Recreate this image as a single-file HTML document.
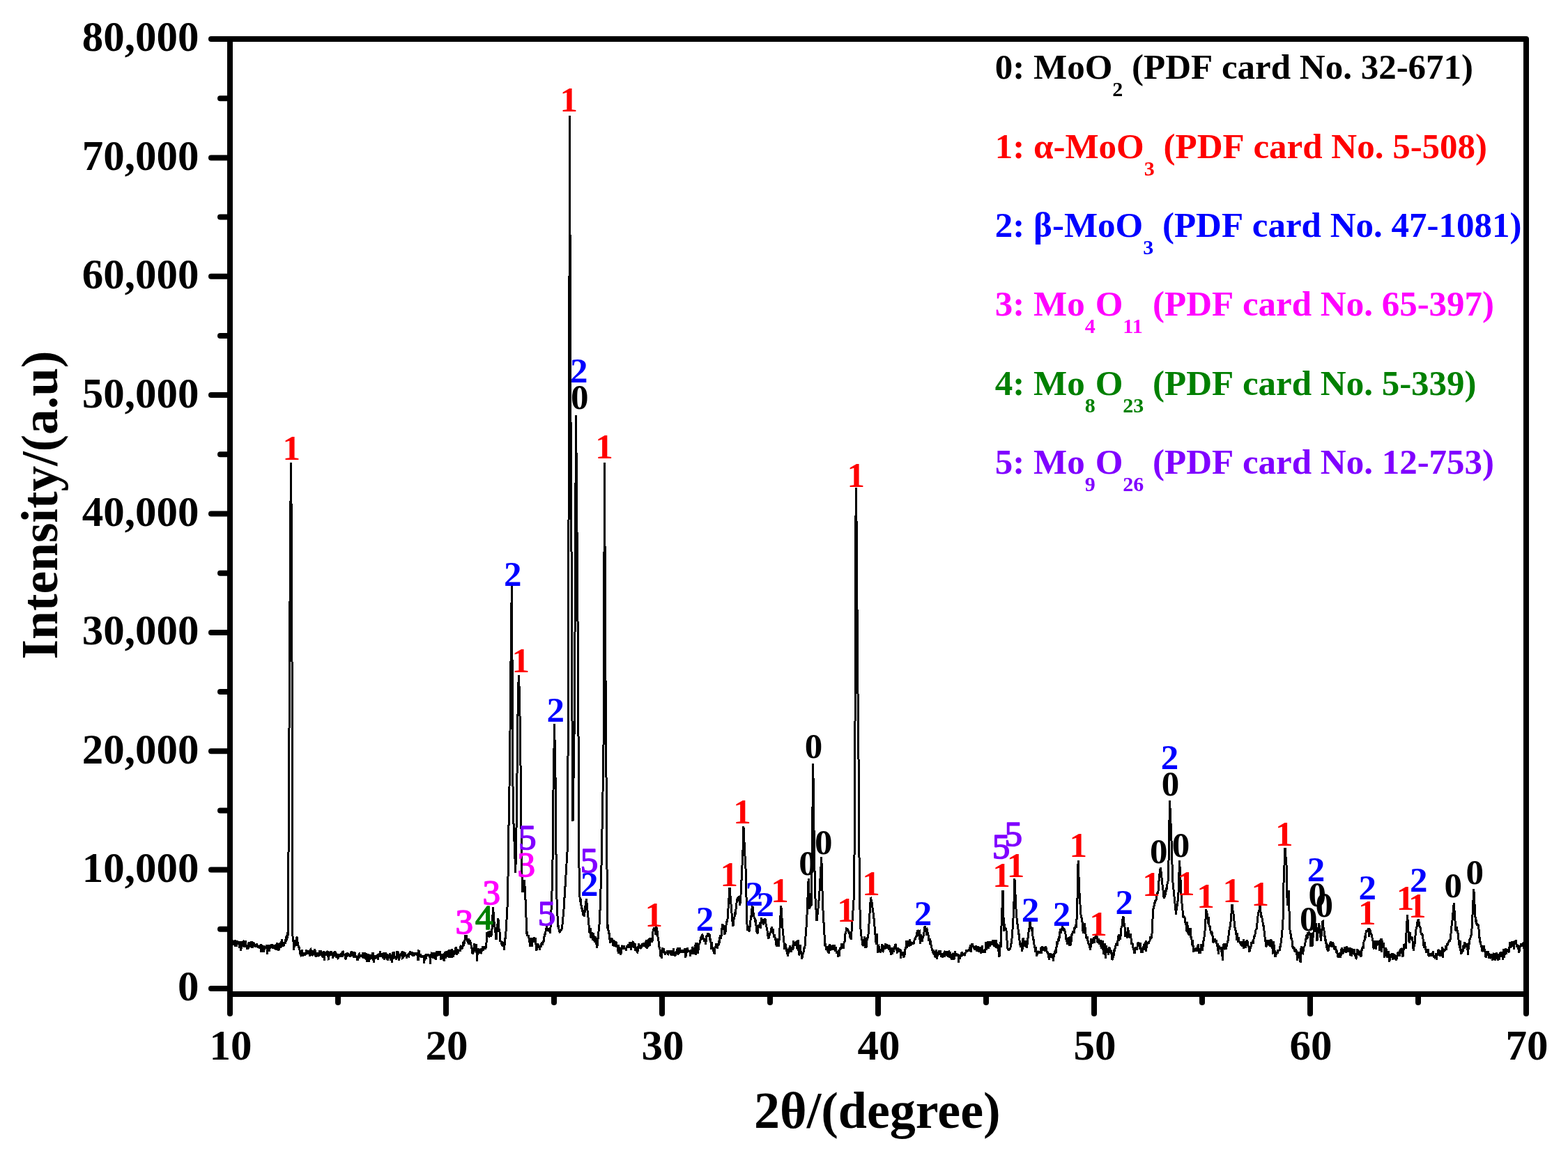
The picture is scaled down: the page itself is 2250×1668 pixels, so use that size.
<!DOCTYPE html><html><head><meta charset="utf-8"><style>html,body{margin:0;padding:0;background:#fff;}svg{display:block;}</style></head><body>
<svg width="2250" height="1668" viewBox="0 0 2250 1668">
<rect width="100%" height="100%" fill="#fff"/>
<path d="M331.00 1353.00 L331.62 1352.24 L332.24 1349.33 L332.86 1352.67 L333.48 1349.26 L334.00 1353.80 L334.10 1355.23 L334.72 1354.56 L335.34 1355.80 L335.96 1355.85 L336.58 1350.93 L337.20 1349.32 L337.82 1359.03 L338.44 1356.32 L339.06 1356.45 L339.68 1358.84 L340.30 1349.97 L340.92 1354.31 L341.54 1351.96 L342.16 1356.22 L342.78 1352.96 L343.40 1361.10 L344.02 1351.17 L344.64 1353.19 L345.26 1358.54 L345.88 1365.12 L346.50 1350.76 L347.12 1358.89 L347.74 1350.92 L348.00 1355.60 L348.36 1352.40 L348.98 1351.82 L349.60 1353.19 L350.22 1359.77 L350.84 1351.32 L351.46 1351.40 L352.08 1351.48 L352.70 1351.56 L353.32 1359.92 L353.94 1357.42 L354.56 1362.42 L355.18 1356.83 L355.80 1361.38 L356.42 1361.81 L357.04 1352.50 L357.66 1354.12 L358.28 1358.86 L358.90 1358.54 L359.52 1359.15 L360.14 1352.67 L360.76 1352.76 L361.38 1354.44 L362.00 1361.11 L362.62 1353.04 L363.24 1353.14 L363.86 1359.35 L364.48 1353.32 L365.10 1356.81 L365.72 1354.92 L366.00 1358.30 L366.34 1358.90 L366.96 1356.51 L367.58 1359.51 L368.20 1353.88 L368.82 1357.18 L369.44 1357.47 L370.06 1357.70 L370.68 1360.39 L371.30 1359.46 L371.92 1360.07 L372.54 1358.65 L373.16 1357.35 L373.78 1357.47 L374.40 1354.81 L375.02 1366.77 L375.64 1358.78 L376.26 1358.38 L376.88 1361.55 L377.50 1360.61 L378.12 1356.95 L378.74 1367.22 L379.36 1359.64 L379.98 1360.23 L380.60 1357.91 L381.22 1361.43 L381.84 1360.83 L382.46 1357.58 L383.08 1356.11 L383.70 1369.90 L384.00 1361.00 L384.32 1360.26 L384.94 1361.16 L385.56 1363.05 L386.18 1366.15 L386.80 1356.40 L387.42 1360.78 L388.04 1358.75 L388.66 1361.28 L389.28 1354.94 L389.90 1360.61 L390.52 1356.56 L391.14 1356.68 L391.76 1361.67 L392.38 1360.23 L393.00 1360.84 L393.62 1359.78 L394.24 1357.05 L394.86 1356.99 L395.48 1359.97 L396.10 1363.71 L396.72 1357.51 L397.34 1353.14 L397.96 1361.16 L398.58 1358.05 L399.20 1360.96 L399.82 1365.26 L400.44 1361.46 L401.06 1352.99 L401.68 1358.70 L402.00 1357.40 L402.30 1360.86 L402.92 1354.59 L403.54 1360.06 L404.16 1348.19 L404.78 1357.17 L405.40 1358.38 L406.02 1352.30 L406.64 1357.69 L407.26 1356.97 L407.88 1355.72 L408.50 1352.98 L409.00 1352.00 L409.12 1347.64 L409.74 1354.58 L410.36 1348.60 L410.98 1344.51 L411.00 1350.00 L411.60 1348.08 L412.22 1338.45 L412.84 1346.58 L413.00 1345.00 L413.46 1303.60 L413.50 1300.00 L414.08 1213.00 L414.50 1150.00 L414.70 1110.00 L415.32 986.00 L415.50 950.00 L415.94 875.20 L416.50 780.00 L416.56 773.04 L417.18 701.12 L417.50 664.00 L417.80 698.80 L418.42 770.72 L418.50 780.00 L419.00 950.00 L419.04 976.67 L419.30 1150.00 L419.50 1300.00 L419.66 1314.08 L420.00 1344.00 L420.28 1347.99 L420.90 1351.20 L421.50 1357.00 L421.52 1363.78 L422.14 1349.06 L422.76 1359.66 L423.38 1356.18 L424.00 1355.98 L424.62 1356.41 L425.24 1357.63 L425.86 1345.59 L426.48 1345.19 L426.50 1348.50 L427.10 1352.84 L427.72 1355.51 L428.34 1359.20 L428.96 1360.83 L429.58 1360.87 L430.20 1365.71 L430.82 1369.19 L431.40 1371.80 L431.44 1370.48 L432.06 1371.46 L432.68 1373.01 L433.30 1362.93 L433.92 1370.66 L434.54 1372.57 L435.16 1371.63 L435.78 1367.72 L436.40 1369.21 L437.02 1367.40 L437.64 1368.34 L438.26 1369.99 L438.88 1369.62 L439.50 1363.15 L440.12 1365.56 L440.74 1369.42 L441.36 1368.05 L441.98 1369.92 L442.60 1364.46 L443.22 1368.96 L443.84 1365.32 L444.46 1372.88 L445.08 1363.14 L445.70 1362.52 L446.32 1364.29 L446.60 1366.40 L446.94 1365.73 L447.56 1371.82 L448.18 1370.84 L448.80 1368.66 L449.42 1363.86 L450.04 1370.37 L450.66 1366.85 L451.28 1364.93 L451.90 1362.46 L452.52 1372.93 L453.14 1370.25 L453.76 1373.79 L454.38 1371.45 L455.00 1367.55 L455.62 1370.83 L456.24 1370.47 L456.86 1371.72 L457.48 1373.04 L458.10 1367.92 L458.72 1363.82 L459.34 1372.09 L459.96 1366.66 L460.58 1364.20 L461.20 1368.28 L461.82 1371.39 L462.44 1370.08 L463.06 1374.44 L463.68 1366.68 L464.30 1365.17 L464.60 1370.00 L464.92 1365.21 L465.54 1379.24 L466.16 1369.33 L466.78 1369.16 L467.40 1365.92 L468.02 1371.89 L468.64 1365.81 L469.26 1369.81 L469.88 1366.00 L470.50 1366.17 L471.12 1375.56 L471.74 1378.24 L472.36 1366.00 L472.98 1368.18 L473.60 1369.71 L474.22 1370.02 L474.84 1366.00 L475.46 1366.00 L476.08 1369.98 L476.70 1371.42 L477.32 1371.64 L477.94 1375.68 L478.56 1366.96 L479.18 1372.77 L479.80 1366.00 L480.42 1366.54 L481.04 1369.87 L481.66 1366.00 L482.28 1369.37 L482.90 1375.34 L483.52 1368.90 L484.14 1374.20 L484.76 1375.60 L485.38 1375.16 L486.00 1370.62 L486.62 1369.74 L487.24 1373.85 L487.86 1369.22 L488.48 1372.33 L489.10 1369.17 L489.72 1368.49 L490.34 1368.66 L490.96 1374.25 L491.50 1370.00 L491.58 1366.34 L492.20 1366.00 L492.82 1370.11 L493.44 1369.43 L494.06 1371.96 L494.68 1370.22 L495.30 1369.95 L495.92 1376.14 L496.54 1375.80 L497.16 1369.33 L497.78 1373.58 L498.40 1367.35 L499.02 1368.44 L499.64 1371.86 L500.26 1370.79 L500.88 1372.82 L501.50 1369.26 L502.12 1371.64 L502.74 1373.61 L503.36 1372.33 L503.98 1366.25 L504.60 1366.27 L505.22 1368.71 L505.84 1370.57 L506.46 1366.33 L507.08 1373.36 L507.70 1373.46 L508.32 1369.88 L508.94 1366.42 L509.56 1369.16 L510.18 1374.99 L510.80 1371.94 L511.42 1372.76 L512.04 1372.15 L512.66 1378.40 L513.28 1377.60 L513.90 1377.52 L514.52 1370.52 L515.14 1375.46 L515.76 1367.64 L516.38 1372.77 L517.00 1370.17 L517.62 1371.97 L518.24 1373.89 L518.40 1370.90 L518.86 1374.16 L519.48 1372.06 L520.10 1374.56 L520.72 1366.81 L521.34 1375.38 L521.96 1373.63 L522.58 1373.16 L523.20 1366.89 L523.82 1374.46 L524.44 1377.21 L525.06 1368.00 L525.68 1376.22 L526.30 1376.24 L526.92 1380.61 L527.54 1373.49 L528.16 1369.32 L528.78 1377.40 L529.00 1376.30 L529.40 1380.63 L530.02 1378.26 L530.64 1376.05 L531.26 1370.87 L531.88 1371.66 L532.50 1372.64 L533.12 1377.13 L533.74 1373.95 L534.36 1368.83 L534.98 1367.20 L535.60 1372.92 L536.22 1381.58 L536.84 1376.28 L537.46 1372.33 L538.08 1371.18 L538.70 1376.42 L539.32 1373.95 L539.94 1371.12 L540.56 1372.15 L541.18 1375.85 L541.80 1372.07 L542.40 1369.10 L542.42 1378.26 L543.04 1369.62 L543.66 1372.05 L544.28 1373.75 L544.90 1368.68 L545.52 1365.52 L546.14 1373.00 L546.76 1368.60 L547.38 1372.31 L548.00 1372.17 L548.62 1371.58 L549.24 1375.73 L549.86 1367.68 L550.48 1370.69 L551.10 1374.03 L551.72 1377.42 L552.34 1373.47 L552.96 1366.95 L553.58 1374.74 L554.20 1374.81 L554.82 1372.73 L555.44 1369.30 L555.90 1373.60 L556.06 1378.82 L556.68 1377.37 L557.30 1374.63 L557.92 1374.50 L558.54 1370.36 L559.16 1371.26 L559.78 1368.26 L560.40 1372.66 L561.02 1378.79 L561.64 1371.47 L562.26 1381.61 L562.88 1371.89 L563.50 1367.70 L564.12 1376.78 L564.74 1367.51 L565.36 1367.42 L565.98 1373.48 L566.60 1371.96 L567.22 1375.71 L567.84 1374.45 L568.46 1377.62 L569.08 1372.31 L569.70 1366.72 L570.32 1366.60 L570.94 1376.13 L571.56 1366.35 L572.18 1372.46 L572.80 1378.46 L573.42 1370.03 L573.80 1370.90 L574.04 1372.25 L574.66 1371.55 L575.28 1368.12 L575.90 1371.34 L576.52 1367.61 L577.14 1365.23 L577.76 1375.10 L578.38 1374.75 L579.00 1365.75 L579.62 1373.96 L580.24 1369.67 L580.86 1371.56 L581.48 1367.70 L582.10 1372.45 L582.72 1369.88 L583.34 1375.49 L583.96 1372.14 L584.58 1371.19 L585.20 1369.51 L585.82 1372.72 L586.44 1373.07 L587.06 1367.44 L587.68 1370.74 L588.30 1365.07 L588.92 1369.48 L589.54 1367.18 L590.16 1368.33 L590.78 1370.89 L591.40 1367.23 L591.80 1367.30 L592.02 1372.27 L592.64 1370.89 L593.26 1368.22 L593.88 1367.35 L594.50 1370.81 L595.12 1370.40 L595.74 1369.80 L596.36 1368.43 L596.98 1368.53 L597.60 1367.55 L598.22 1371.90 L598.84 1368.83 L599.46 1375.20 L600.08 1379.18 L600.70 1365.13 L601.32 1365.43 L601.94 1369.66 L602.56 1373.93 L603.18 1369.33 L603.80 1373.27 L604.42 1373.76 L605.04 1374.84 L605.20 1373.60 L605.66 1372.67 L606.28 1371.36 L606.90 1373.20 L607.52 1374.68 L608.14 1372.23 L608.76 1383.00 L609.38 1372.27 L610.00 1371.45 L610.62 1372.65 L611.24 1376.52 L611.86 1369.43 L612.48 1372.71 L613.10 1369.53 L613.72 1372.99 L614.34 1369.76 L614.96 1373.12 L615.58 1371.13 L616.20 1372.23 L616.82 1370.65 L617.44 1384.22 L618.06 1372.66 L618.68 1368.76 L618.70 1370.90 L619.30 1368.70 L619.92 1366.90 L620.54 1373.28 L621.16 1375.85 L621.78 1371.63 L622.40 1371.43 L623.02 1366.90 L623.64 1374.93 L624.26 1376.95 L624.88 1369.86 L625.50 1377.77 L626.12 1366.90 L626.74 1366.90 L627.36 1372.76 L627.98 1370.31 L628.60 1370.16 L629.22 1366.90 L629.84 1366.90 L630.46 1371.36 L631.08 1367.13 L631.70 1366.88 L632.32 1375.06 L632.94 1377.34 L633.56 1373.54 L634.18 1374.24 L634.80 1370.55 L635.42 1370.25 L636.04 1375.37 L636.60 1370.90 L636.66 1378.06 L637.28 1379.97 L637.90 1376.15 L638.52 1365.86 L639.14 1376.03 L639.76 1371.52 L640.38 1369.01 L641.00 1365.02 L641.62 1373.86 L642.24 1366.76 L642.86 1368.06 L643.48 1364.52 L644.10 1374.72 L644.72 1364.28 L645.34 1364.07 L645.96 1364.20 L646.58 1369.10 L647.20 1364.85 L647.82 1375.35 L648.44 1362.42 L649.06 1373.21 L649.68 1369.05 L650.10 1368.20 L650.30 1372.80 L650.92 1372.60 L651.54 1364.56 L652.16 1368.06 L652.78 1368.07 L653.40 1367.17 L654.02 1359.44 L654.64 1362.69 L655.26 1364.17 L655.88 1370.52 L656.50 1362.53 L657.12 1368.72 L657.74 1365.34 L658.36 1362.88 L658.98 1365.71 L659.60 1364.64 L660.22 1364.67 L660.84 1358.32 L661.46 1357.02 L662.08 1361.46 L662.70 1362.56 L663.32 1361.06 L663.60 1361.00 L663.94 1359.61 L664.56 1352.40 L665.18 1357.65 L665.80 1350.94 L666.42 1354.34 L667.04 1348.57 L667.66 1342.55 L668.28 1343.65 L668.90 1344.19 L669.40 1344.00 L669.52 1343.95 L670.14 1351.91 L670.76 1349.55 L671.38 1350.98 L672.00 1353.40 L672.50 1355.60 L672.62 1346.64 L673.24 1356.09 L673.86 1350.00 L674.30 1351.10 L674.48 1349.69 L675.10 1352.47 L675.72 1353.79 L676.34 1361.58 L676.96 1360.53 L677.58 1368.01 L677.90 1368.20 L678.20 1359.74 L678.82 1369.71 L679.44 1364.24 L680.06 1360.57 L680.60 1358.30 L680.68 1353.65 L681.30 1360.90 L681.92 1354.96 L682.54 1358.08 L683.16 1368.08 L683.78 1354.79 L684.20 1368.20 L684.40 1380.29 L685.02 1367.25 L685.64 1370.84 L686.26 1361.17 L686.88 1368.44 L687.50 1363.38 L688.12 1365.94 L688.70 1364.60 L688.74 1362.32 L689.36 1362.91 L689.98 1369.17 L690.60 1367.23 L691.22 1361.63 L691.84 1365.73 L692.46 1362.31 L693.08 1357.88 L693.70 1365.21 L694.32 1361.12 L694.94 1358.41 L695.56 1361.53 L696.18 1358.64 L696.80 1362.30 L697.42 1357.74 L697.70 1357.40 L698.04 1352.48 L698.66 1343.52 L699.00 1338.60 L699.28 1340.04 L699.90 1341.67 L700.52 1336.70 L701.14 1345.36 L701.76 1341.42 L702.10 1335.90 L702.38 1338.90 L703.00 1338.26 L703.62 1338.39 L703.90 1343.10 L704.24 1339.74 L704.86 1344.38 L705.48 1337.13 L706.10 1333.00 L706.20 1332.30 L706.72 1320.10 L707.34 1305.55 L707.50 1301.80 L707.96 1308.21 L708.58 1316.86 L709.20 1325.51 L709.30 1326.90 L709.82 1329.10 L710.44 1336.34 L711.06 1338.92 L711.68 1347.29 L712.00 1349.30 L712.30 1345.91 L712.92 1338.91 L713.54 1331.90 L714.16 1324.90 L714.70 1318.80 L714.78 1318.36 L715.40 1323.98 L716.02 1333.32 L716.64 1334.90 L717.26 1340.10 L717.40 1344.90 L717.88 1351.91 L718.50 1350.91 L719.12 1351.38 L719.74 1353.94 L720.30 1357.60 L720.36 1350.84 L720.98 1356.30 L721.60 1358.23 L722.22 1352.70 L722.84 1354.63 L723.46 1364.28 L724.08 1355.62 L724.70 1350.52 L725.32 1342.04 L725.40 1347.50 L725.94 1338.26 L726.56 1327.65 L727.18 1317.03 L727.80 1306.42 L728.00 1303.00 L728.42 1284.73 L729.00 1259.50 L729.04 1256.33 L729.66 1207.11 L729.80 1196.00 L730.28 1169.60 L730.90 1135.50 L731.00 1130.00 L731.52 1088.40 L732.00 1050.00 L732.14 1036.00 L732.76 974.00 L733.00 950.00 L733.38 918.14 L734.00 866.15 L734.30 841.00 L734.62 888.60 L735.10 960.00 L735.24 988.35 L735.50 1041.00 L735.86 1103.23 L736.20 1162.00 L736.48 1169.07 L737.10 1184.71 L737.72 1200.36 L738.30 1215.00 L738.34 1216.01 L738.96 1231.72 L739.58 1247.43 L739.80 1253.00 L740.20 1231.59 L740.82 1198.40 L741.44 1165.21 L741.50 1162.00 L742.06 1106.00 L742.60 1052.00 L742.68 1046.88 L743.30 1007.20 L743.60 988.00 L743.92 981.24 L744.50 969.00 L744.54 970.27 L745.16 989.90 L745.70 1007.00 L745.78 1012.38 L746.40 1054.09 L746.80 1081.00 L747.02 1100.20 L747.64 1154.31 L747.90 1177.00 L748.26 1219.00 L748.50 1247.00 L748.88 1255.61 L749.50 1269.67 L750.00 1281.00 L750.12 1279.66 L750.74 1275.48 L751.36 1273.26 L751.98 1268.01 L752.60 1263.60 L753.22 1275.77 L753.84 1287.93 L754.20 1295.00 L754.46 1301.99 L755.08 1318.66 L755.70 1335.32 L755.90 1340.70 L756.32 1336.70 L756.94 1343.40 L757.56 1342.11 L758.18 1344.42 L758.80 1344.01 L759.42 1351.88 L760.04 1352.27 L760.66 1358.82 L761.00 1354.00 L761.28 1351.62 L761.90 1346.64 L762.52 1349.89 L763.14 1359.00 L763.76 1353.12 L764.38 1345.94 L765.00 1347.54 L765.62 1352.44 L766.24 1346.39 L766.86 1345.69 L767.48 1349.86 L767.80 1349.00 L768.10 1346.19 L768.72 1355.54 L769.34 1353.69 L769.96 1364.44 L770.58 1353.95 L771.20 1356.12 L771.82 1354.24 L772.44 1356.25 L772.90 1361.00 L773.06 1360.26 L773.68 1358.41 L774.30 1363.59 L774.92 1357.27 L775.54 1358.09 L776.16 1359.94 L776.78 1355.61 L777.40 1352.69 L778.02 1355.73 L778.64 1356.65 L779.26 1350.02 L779.70 1351.00 L779.88 1353.37 L780.50 1348.66 L781.12 1343.56 L781.74 1340.82 L782.36 1342.06 L782.98 1337.10 L783.60 1335.99 L784.22 1330.25 L784.70 1330.50 L784.84 1335.50 L785.46 1336.30 L786.08 1331.88 L786.70 1336.53 L787.32 1333.94 L787.94 1334.87 L788.56 1335.52 L789.18 1339.26 L789.80 1337.00 L790.42 1320.90 L791.04 1304.81 L791.66 1288.71 L792.28 1272.62 L792.40 1269.50 L792.90 1240.88 L793.20 1223.70 L793.52 1187.82 L794.00 1134.00 L794.14 1125.69 L794.76 1088.88 L795.38 1052.06 L795.60 1039.00 L796.00 1060.75 L796.62 1094.46 L797.20 1126.00 L797.24 1131.00 L797.86 1208.50 L798.40 1276.00 L798.48 1277.91 L799.10 1292.74 L799.72 1307.57 L800.34 1322.39 L800.70 1331.00 L800.96 1328.36 L801.58 1329.67 L802.20 1336.32 L802.82 1336.47 L803.00 1338.00 L803.44 1337.77 L804.06 1334.51 L804.68 1336.07 L805.30 1334.67 L805.92 1333.71 L806.40 1333.00 L806.54 1332.60 L807.16 1325.73 L807.78 1317.23 L808.40 1313.34 L808.70 1310.00 L809.02 1304.79 L809.64 1294.69 L810.26 1284.59 L810.88 1274.50 L811.50 1264.40 L812.12 1254.30 L812.20 1253.00 L812.74 1244.08 L813.36 1233.83 L813.98 1223.59 L814.50 1215.00 L814.60 1192.00 L815.00 1100.00 L815.20 900.00 L815.22 896.25 L815.84 780.00 L816.00 750.00 L816.46 606.25 L816.80 500.00 L817.08 366.40 L817.50 166.00 L817.70 232.80 L818.32 439.88 L818.50 500.00 L818.94 591.67 L819.56 720.83 L819.70 750.00 L820.18 815.45 L820.80 900.00 L821.00 1035.00 L821.42 1106.40 L821.50 1120.00 L822.00 1179.00 L822.04 1176.57 L822.66 1138.89 L823.28 1101.22 L823.30 1100.00 L823.90 1061.00 L824.30 1035.00 L824.52 1001.12 L824.80 958.00 L825.14 881.26 L825.50 800.00 L825.76 746.96 L826.38 620.48 L826.50 596.00 L827.00 648.00 L827.50 700.00 L827.62 715.00 L828.24 792.50 L828.70 850.00 L828.86 871.60 L829.48 955.30 L829.50 958.00 L830.10 1074.57 L830.20 1094.00 L830.40 1210.00 L830.72 1228.95 L831.34 1265.68 L831.70 1287.00 L831.96 1287.19 L832.58 1292.40 L833.20 1292.00 L833.82 1299.27 L834.44 1300.66 L835.06 1305.12 L835.20 1306.00 L835.68 1303.12 L836.30 1314.00 L836.92 1305.82 L837.54 1313.40 L838.16 1315.39 L838.60 1313.00 L838.78 1311.90 L839.40 1307.21 L840.02 1300.11 L840.64 1297.50 L841.26 1290.38 L841.60 1292.00 L841.88 1294.94 L842.50 1301.46 L843.12 1307.98 L843.74 1314.50 L844.36 1321.02 L844.98 1327.53 L845.50 1333.00 L845.60 1337.68 L846.22 1339.35 L846.84 1336.65 L847.46 1332.12 L848.08 1347.25 L848.70 1340.38 L849.32 1340.34 L849.94 1338.40 L850.56 1349.55 L851.18 1338.65 L851.30 1345.00 L851.80 1345.21 L852.42 1343.63 L853.04 1351.30 L853.66 1352.35 L854.28 1348.88 L854.90 1343.82 L855.52 1354.67 L856.14 1355.02 L856.76 1360.77 L857.00 1358.60 L857.38 1354.63 L858.00 1348.14 L858.62 1341.66 L859.24 1335.18 L859.86 1328.69 L860.48 1322.21 L860.50 1322.00 L861.10 1304.00 L861.72 1285.40 L862.34 1266.80 L862.80 1253.00 L862.96 1244.64 L863.58 1212.23 L864.20 1179.82 L864.82 1147.41 L865.00 1138.00 L865.44 1108.30 L866.06 1066.45 L866.20 1057.00 L866.68 891.40 L866.80 850.00 L867.30 717.14 L867.50 664.00 L867.92 761.65 L868.30 850.00 L868.54 898.00 L868.80 950.00 L869.16 997.60 L869.70 1069.00 L869.78 1080.71 L870.40 1171.45 L870.80 1230.00 L871.02 1248.88 L871.64 1302.10 L872.00 1333.00 L872.26 1327.15 L872.88 1334.31 L873.50 1339.40 L874.12 1339.81 L874.74 1348.50 L875.36 1347.41 L875.40 1349.00 L875.98 1353.56 L876.60 1347.12 L877.22 1348.58 L877.84 1346.01 L878.46 1349.01 L879.08 1352.67 L879.70 1357.85 L880.00 1352.00 L880.32 1353.87 L880.94 1348.73 L881.56 1359.03 L882.18 1354.81 L882.80 1358.86 L883.42 1351.97 L884.04 1352.83 L884.66 1360.09 L885.00 1358.80 L885.28 1359.31 L885.90 1356.50 L886.52 1357.26 L887.14 1368.68 L887.76 1355.62 L888.38 1363.78 L889.00 1362.88 L889.62 1360.29 L890.24 1367.99 L890.86 1370.49 L891.48 1364.21 L892.10 1360.83 L892.72 1358.68 L893.34 1359.24 L893.96 1360.62 L894.58 1360.14 L895.20 1357.44 L895.82 1362.97 L896.44 1360.34 L897.06 1362.37 L897.20 1361.80 L897.68 1360.19 L898.30 1364.77 L898.92 1361.15 L899.54 1357.01 L900.16 1358.34 L900.78 1360.74 L901.40 1356.11 L902.02 1355.93 L902.64 1360.42 L903.26 1359.32 L903.88 1352.23 L904.50 1355.65 L905.12 1352.18 L905.74 1363.61 L906.36 1355.57 L906.98 1352.17 L907.60 1359.08 L907.80 1355.70 L908.22 1352.32 L908.84 1352.68 L909.46 1360.99 L910.08 1359.13 L910.70 1354.89 L911.32 1354.06 L911.94 1365.03 L912.56 1359.33 L913.18 1365.64 L913.80 1359.53 L913.90 1364.80 L914.42 1368.22 L915.04 1365.99 L915.66 1363.05 L916.28 1354.08 L916.90 1360.03 L917.52 1357.56 L918.14 1360.61 L918.76 1360.79 L919.38 1359.68 L920.00 1356.10 L920.62 1361.36 L921.24 1354.57 L921.86 1357.72 L922.48 1358.40 L923.00 1355.70 L923.10 1352.65 L923.72 1359.02 L924.34 1355.96 L924.96 1356.02 L925.58 1358.97 L926.20 1357.94 L926.82 1351.90 L927.44 1349.00 L928.06 1361.46 L928.68 1353.64 L929.30 1353.44 L929.92 1359.96 L930.54 1354.27 L931.16 1346.75 L931.78 1355.54 L932.40 1357.79 L933.02 1346.02 L933.50 1352.70 L933.64 1349.68 L934.26 1351.35 L934.88 1347.53 L935.50 1352.88 L936.12 1350.46 L936.50 1343.00 L936.74 1338.37 L937.36 1334.52 L937.98 1334.39 L938.60 1332.91 L938.80 1331.50 L939.22 1332.69 L939.84 1335.00 L940.46 1341.89 L941.08 1329.38 L941.50 1338.00 L941.70 1337.37 L942.32 1330.99 L942.94 1343.08 L943.56 1336.37 L944.10 1346.70 L944.18 1347.29 L944.80 1348.81 L945.42 1356.17 L946.04 1359.77 L946.66 1359.12 L947.20 1364.80 L947.28 1369.04 L947.90 1372.84 L948.52 1366.65 L949.14 1375.64 L949.76 1366.91 L950.38 1367.57 L951.00 1360.56 L951.62 1366.62 L952.24 1361.12 L952.86 1365.02 L953.48 1366.01 L954.10 1369.27 L954.72 1370.55 L955.34 1366.40 L955.96 1367.17 L956.58 1366.87 L957.20 1368.44 L957.82 1363.85 L958.44 1371.36 L959.06 1365.79 L959.68 1368.78 L960.30 1365.83 L960.80 1364.80 L960.92 1368.08 L961.54 1366.33 L962.16 1364.20 L962.78 1370.42 L963.40 1367.11 L964.02 1371.62 L964.64 1365.84 L965.26 1372.05 L965.88 1365.39 L966.50 1360.87 L967.12 1368.57 L967.74 1366.96 L968.36 1367.28 L968.98 1372.53 L969.60 1367.06 L970.22 1365.37 L970.84 1368.22 L971.46 1367.66 L972.08 1361.42 L972.70 1361.49 L973.32 1369.19 L973.94 1370.03 L974.56 1361.67 L975.18 1361.73 L975.80 1367.36 L975.90 1366.30 L976.42 1367.94 L977.04 1363.19 L977.66 1365.84 L978.28 1365.87 L978.90 1364.18 L979.52 1365.76 L980.14 1367.98 L980.76 1363.45 L981.38 1365.77 L982.00 1364.41 L982.62 1361.31 L983.24 1365.71 L983.86 1374.85 L984.48 1366.67 L985.10 1367.57 L985.72 1362.49 L986.34 1360.70 L986.96 1362.95 L987.58 1367.07 L988.20 1364.27 L988.82 1366.79 L989.44 1365.47 L990.06 1364.55 L990.68 1373.00 L991.00 1364.80 L991.30 1366.02 L991.92 1362.98 L992.54 1367.82 L993.16 1369.97 L993.78 1358.60 L994.40 1367.14 L995.02 1369.48 L995.64 1361.24 L996.26 1361.35 L996.88 1366.45 L997.50 1368.61 L998.12 1352.89 L998.74 1370.72 L999.36 1360.24 L999.98 1359.95 L1000.60 1353.38 L1001.22 1369.05 L1001.60 1361.80 L1001.84 1361.00 L1002.46 1363.73 L1003.08 1355.05 L1003.70 1355.73 L1004.32 1352.38 L1004.94 1349.76 L1005.56 1346.42 L1006.18 1345.03 L1006.80 1343.12 L1007.42 1345.83 L1007.70 1342.10 L1008.04 1341.89 L1008.66 1347.56 L1009.28 1348.61 L1009.90 1346.08 L1010.52 1351.81 L1011.14 1350.42 L1011.76 1351.65 L1012.20 1351.20 L1012.38 1356.31 L1013.00 1351.90 L1013.62 1344.19 L1014.24 1343.33 L1014.86 1343.84 L1015.48 1339.47 L1016.00 1342.10 L1016.10 1339.28 L1016.72 1344.35 L1017.34 1341.63 L1017.96 1340.53 L1018.58 1349.71 L1019.20 1347.38 L1019.82 1348.51 L1020.44 1362.64 L1021.06 1354.38 L1021.30 1354.20 L1021.68 1356.72 L1022.30 1361.18 L1022.92 1361.51 L1023.54 1364.42 L1024.16 1366.34 L1024.78 1368.83 L1025.00 1367.80 L1025.40 1369.39 L1026.02 1359.76 L1026.64 1358.59 L1027.26 1361.14 L1027.88 1353.92 L1028.50 1359.36 L1028.80 1357.30 L1029.12 1358.63 L1029.74 1361.57 L1030.36 1354.37 L1030.98 1357.54 L1031.60 1350.66 L1032.22 1353.95 L1032.84 1345.76 L1033.46 1342.49 L1034.08 1348.33 L1034.70 1342.26 L1034.90 1345.20 L1035.32 1340.10 L1035.94 1332.58 L1036.40 1327.00 L1036.56 1326.17 L1037.18 1331.32 L1037.80 1326.86 L1038.42 1331.09 L1039.04 1335.12 L1039.66 1341.57 L1040.28 1340.39 L1040.90 1337.60 L1041.52 1336.83 L1042.14 1325.68 L1042.76 1322.85 L1043.38 1322.87 L1044.00 1319.40 L1044.62 1310.02 L1045.24 1300.63 L1045.86 1291.25 L1046.48 1281.87 L1047.00 1274.00 L1047.10 1275.21 L1047.72 1282.72 L1048.34 1290.23 L1048.96 1297.74 L1049.58 1305.25 L1050.20 1312.76 L1050.82 1320.26 L1051.44 1327.77 L1051.50 1328.50 L1052.06 1329.26 L1052.68 1321.43 L1053.30 1317.86 L1053.40 1320.00 L1053.92 1316.60 L1054.54 1311.36 L1055.16 1311.74 L1055.78 1307.89 L1056.40 1299.70 L1057.02 1295.74 L1057.64 1293.58 L1058.26 1288.62 L1058.50 1289.50 L1058.88 1289.97 L1059.50 1287.46 L1060.12 1293.84 L1060.74 1286.27 L1061.36 1299.73 L1061.98 1296.78 L1062.60 1296.05 L1062.70 1291.20 L1063.22 1280.31 L1063.84 1267.33 L1064.40 1255.60 L1064.46 1254.28 L1065.08 1240.68 L1065.70 1227.08 L1066.10 1218.30 L1066.32 1209.45 L1066.90 1186.10 L1066.94 1186.94 L1067.56 1199.92 L1068.18 1212.90 L1068.60 1221.70 L1068.80 1225.29 L1069.42 1236.41 L1070.04 1247.54 L1070.30 1252.20 L1070.66 1270.52 L1071.20 1298.00 L1071.28 1300.88 L1071.90 1323.20 L1072.00 1326.80 L1072.52 1335.62 L1073.14 1329.19 L1073.76 1330.13 L1074.38 1336.92 L1075.00 1336.39 L1075.40 1335.30 L1075.62 1336.34 L1076.24 1328.11 L1076.86 1323.67 L1077.48 1314.43 L1078.10 1317.11 L1078.72 1306.38 L1079.34 1302.58 L1079.70 1301.40 L1079.96 1301.16 L1080.58 1305.45 L1081.20 1312.08 L1081.82 1315.23 L1082.44 1318.62 L1083.06 1317.98 L1083.68 1323.57 L1083.90 1323.40 L1084.30 1320.28 L1084.92 1328.72 L1085.54 1329.66 L1086.16 1340.03 L1086.78 1339.20 L1087.30 1340.30 L1087.40 1337.61 L1088.02 1332.19 L1088.64 1327.06 L1089.26 1327.99 L1089.88 1330.06 L1090.50 1328.67 L1090.70 1326.80 L1091.12 1323.22 L1091.74 1332.58 L1092.36 1317.42 L1092.98 1318.46 L1093.60 1323.33 L1094.22 1325.97 L1094.84 1318.96 L1095.46 1327.69 L1096.08 1320.17 L1096.70 1321.52 L1097.32 1321.46 L1097.50 1318.30 L1097.94 1323.90 L1098.56 1319.26 L1099.18 1328.28 L1099.80 1329.02 L1100.42 1334.44 L1101.04 1336.33 L1101.66 1340.01 L1102.28 1347.51 L1102.50 1343.70 L1102.90 1347.32 L1103.52 1343.71 L1104.14 1342.16 L1104.76 1339.53 L1105.38 1338.90 L1106.00 1336.81 L1106.62 1332.16 L1107.24 1338.54 L1107.60 1330.20 L1107.86 1335.15 L1108.48 1337.58 L1109.10 1333.35 L1109.72 1336.71 L1110.34 1345.61 L1110.96 1340.83 L1111.58 1345.31 L1112.20 1345.97 L1112.82 1347.11 L1113.44 1355.40 L1114.06 1357.10 L1114.40 1357.30 L1114.68 1356.12 L1115.30 1354.92 L1115.92 1347.20 L1116.54 1355.15 L1117.16 1358.55 L1117.78 1357.99 L1117.80 1353.90 L1118.40 1343.06 L1119.02 1331.86 L1119.64 1320.66 L1120.26 1309.46 L1120.80 1299.70 L1120.88 1300.93 L1121.50 1310.43 L1122.12 1319.94 L1122.74 1329.45 L1122.90 1331.90 L1123.36 1336.57 L1123.98 1342.87 L1124.60 1349.17 L1125.22 1355.47 L1125.40 1357.30 L1125.84 1363.28 L1126.46 1355.73 L1127.08 1354.71 L1127.70 1363.35 L1128.32 1360.05 L1128.94 1366.30 L1129.56 1364.44 L1130.18 1372.40 L1130.80 1367.22 L1131.40 1367.50 L1131.42 1369.08 L1132.04 1361.28 L1132.66 1364.20 L1133.28 1357.37 L1133.90 1366.28 L1134.52 1364.76 L1135.14 1366.91 L1135.76 1359.44 L1136.38 1362.27 L1137.00 1364.13 L1137.62 1356.21 L1138.24 1361.85 L1138.86 1350.57 L1139.48 1357.66 L1139.80 1352.20 L1140.10 1356.77 L1140.72 1353.63 L1141.34 1353.08 L1141.96 1355.47 L1142.58 1357.57 L1143.20 1350.14 L1143.82 1362.30 L1144.44 1361.89 L1145.06 1348.61 L1145.68 1357.51 L1146.30 1371.28 L1146.92 1368.73 L1147.54 1365.82 L1148.16 1356.16 L1148.78 1363.50 L1149.40 1367.21 L1150.02 1369.43 L1150.64 1376.90 L1151.26 1373.07 L1151.70 1370.80 L1151.88 1370.12 L1152.50 1368.83 L1153.12 1366.30 L1153.74 1360.89 L1154.36 1360.65 L1154.98 1358.30 L1155.10 1355.60 L1155.60 1349.16 L1156.22 1341.17 L1156.84 1333.19 L1157.46 1325.20 L1157.60 1323.40 L1158.08 1311.43 L1158.70 1295.96 L1159.30 1281.00 L1159.32 1280.55 L1159.94 1266.56 L1160.20 1260.70 L1160.56 1270.02 L1161.18 1286.06 L1161.80 1302.11 L1161.90 1304.70 L1162.42 1297.85 L1163.04 1300.60 L1163.66 1297.92 L1164.28 1297.61 L1164.40 1299.70 L1164.90 1259.85 L1165.40 1220.00 L1165.52 1208.00 L1166.10 1150.00 L1166.14 1146.40 L1166.70 1096.00 L1166.76 1100.05 L1167.38 1141.90 L1167.50 1150.00 L1168.00 1190.00 L1168.50 1230.00 L1168.62 1234.80 L1169.24 1259.60 L1169.86 1284.40 L1170.00 1290.00 L1170.48 1297.61 L1171.10 1307.43 L1171.72 1317.26 L1172.00 1321.70 L1172.34 1319.82 L1172.96 1313.78 L1173.58 1308.37 L1174.20 1301.51 L1174.82 1293.99 L1175.40 1289.50 L1175.44 1288.80 L1176.06 1277.99 L1176.68 1267.18 L1177.30 1256.36 L1177.92 1245.55 L1178.54 1234.73 L1178.80 1230.20 L1179.16 1244.56 L1179.78 1269.28 L1180.40 1294.01 L1180.50 1298.00 L1181.02 1307.07 L1181.64 1317.88 L1182.26 1328.70 L1182.88 1339.51 L1183.50 1350.32 L1183.90 1357.30 L1184.12 1358.42 L1184.74 1353.92 L1185.36 1362.61 L1185.98 1362.50 L1186.60 1362.54 L1187.22 1364.01 L1187.30 1365.80 L1187.84 1364.70 L1188.46 1357.94 L1189.08 1368.56 L1189.70 1358.03 L1190.32 1357.33 L1190.94 1355.25 L1191.56 1364.36 L1192.18 1361.23 L1192.80 1363.61 L1193.42 1362.86 L1194.04 1359.44 L1194.66 1359.76 L1195.28 1356.22 L1195.80 1359.00 L1195.90 1357.70 L1196.52 1363.39 L1197.14 1355.83 L1197.76 1360.13 L1198.38 1365.93 L1199.00 1359.54 L1199.62 1361.49 L1200.24 1366.97 L1200.86 1366.63 L1201.48 1368.29 L1202.10 1365.33 L1202.50 1370.80 L1202.72 1373.69 L1203.34 1363.02 L1203.96 1373.27 L1204.58 1367.54 L1205.20 1361.74 L1205.82 1360.45 L1206.44 1362.62 L1207.06 1358.35 L1207.68 1354.68 L1208.30 1358.16 L1208.92 1361.77 L1209.54 1357.31 L1210.16 1357.00 L1210.78 1362.09 L1211.00 1353.90 L1211.40 1351.01 L1212.02 1351.60 L1212.64 1340.37 L1213.26 1340.93 L1213.88 1338.02 L1214.50 1332.90 L1215.12 1333.20 L1215.30 1331.90 L1215.74 1333.80 L1216.36 1334.37 L1216.98 1335.28 L1217.60 1338.98 L1218.22 1337.00 L1218.84 1340.22 L1219.46 1342.41 L1220.08 1346.67 L1220.70 1345.69 L1221.20 1348.80 L1221.32 1347.01 L1221.94 1337.74 L1222.56 1328.48 L1222.90 1323.40 L1223.18 1319.21 L1223.80 1309.94 L1224.42 1300.66 L1225.04 1291.39 L1225.40 1286.00 L1225.66 1261.16 L1226.28 1201.91 L1226.30 1200.00 L1226.80 1100.00 L1226.90 1070.00 L1227.30 950.00 L1227.52 840.00 L1227.60 800.00 L1228.14 722.86 L1228.30 700.00 L1228.76 730.67 L1229.20 760.00 L1229.38 787.00 L1229.80 850.00 L1230.00 875.00 L1230.60 950.00 L1230.62 952.22 L1231.24 1021.11 L1231.50 1050.00 L1231.86 1078.00 L1232.40 1120.00 L1232.48 1136.00 L1232.80 1200.00 L1233.10 1244.00 L1233.40 1288.00 L1233.72 1297.22 L1234.34 1315.09 L1234.96 1332.96 L1235.10 1337.00 L1235.58 1339.55 L1236.20 1345.77 L1236.82 1348.76 L1237.44 1349.51 L1238.06 1357.79 L1238.50 1357.30 L1238.68 1355.69 L1239.30 1349.31 L1239.92 1352.33 L1240.54 1345.52 L1241.00 1345.40 L1241.16 1351.80 L1241.78 1361.17 L1242.40 1356.97 L1242.70 1360.70 L1243.02 1359.61 L1243.64 1355.24 L1244.26 1347.07 L1244.88 1347.36 L1245.50 1344.17 L1246.10 1340.30 L1246.12 1339.99 L1246.74 1330.42 L1247.36 1320.84 L1247.98 1311.27 L1248.60 1301.70 L1249.22 1292.12 L1249.50 1287.80 L1249.84 1288.95 L1250.46 1297.22 L1251.08 1294.82 L1251.70 1298.97 L1252.32 1306.90 L1252.94 1309.05 L1253.56 1314.28 L1253.70 1314.90 L1254.18 1320.41 L1254.80 1327.52 L1255.42 1334.63 L1256.04 1341.74 L1256.66 1348.85 L1257.10 1353.90 L1257.28 1354.24 L1257.90 1354.40 L1258.52 1340.28 L1259.14 1360.64 L1259.76 1368.25 L1260.38 1357.57 L1261.00 1357.29 L1261.62 1367.26 L1262.24 1364.77 L1262.86 1364.35 L1263.48 1367.67 L1263.90 1364.10 L1264.10 1362.49 L1264.72 1364.92 L1265.34 1360.71 L1265.96 1355.39 L1266.58 1364.79 L1267.20 1365.35 L1267.82 1363.71 L1268.44 1361.58 L1269.06 1357.47 L1269.68 1362.80 L1270.30 1354.10 L1270.92 1358.31 L1271.54 1360.61 L1272.16 1361.20 L1272.78 1355.58 L1273.40 1360.87 L1274.02 1357.11 L1274.10 1357.30 L1274.64 1358.69 L1275.26 1363.58 L1275.88 1356.64 L1276.50 1360.73 L1277.12 1360.81 L1277.74 1364.23 L1278.36 1370.48 L1278.98 1368.01 L1279.20 1367.50 L1279.60 1366.77 L1280.22 1370.09 L1280.84 1360.25 L1281.46 1361.75 L1282.08 1364.83 L1282.70 1366.59 L1283.32 1358.45 L1283.94 1359.16 L1284.20 1359.00 L1284.56 1355.36 L1285.18 1355.88 L1285.80 1359.44 L1286.42 1365.32 L1287.04 1361.52 L1287.66 1366.78 L1288.28 1366.37 L1288.90 1359.92 L1289.52 1365.42 L1290.14 1365.55 L1290.76 1366.68 L1291.38 1365.46 L1292.00 1362.23 L1292.62 1376.27 L1293.24 1365.71 L1293.86 1371.96 L1294.48 1368.94 L1295.10 1370.73 L1295.72 1369.44 L1296.34 1365.78 L1296.96 1374.41 L1297.58 1371.57 L1297.80 1372.50 L1298.20 1368.86 L1298.82 1363.48 L1299.44 1360.93 L1300.06 1359.58 L1300.68 1349.90 L1301.20 1353.90 L1301.30 1360.99 L1301.92 1351.58 L1302.54 1357.55 L1303.16 1350.27 L1303.78 1351.12 L1304.40 1359.21 L1305.02 1349.90 L1305.64 1349.90 L1306.26 1351.77 L1306.88 1357.53 L1307.50 1353.32 L1308.12 1354.04 L1308.74 1355.12 L1309.36 1353.80 L1309.98 1353.14 L1310.60 1355.30 L1311.22 1354.07 L1311.40 1353.90 L1311.84 1351.34 L1312.46 1346.82 L1313.08 1348.91 L1313.70 1346.06 L1314.32 1345.31 L1314.94 1344.35 L1315.56 1338.47 L1316.18 1344.39 L1316.80 1335.07 L1317.42 1336.15 L1318.04 1337.49 L1318.10 1338.60 L1318.66 1336.43 L1319.28 1336.21 L1319.90 1347.74 L1320.52 1354.48 L1321.14 1341.11 L1321.76 1347.09 L1322.38 1347.23 L1323.00 1351.56 L1323.20 1350.50 L1323.62 1344.91 L1324.24 1344.98 L1324.86 1345.19 L1325.48 1339.45 L1326.10 1337.56 L1326.72 1331.60 L1327.34 1329.36 L1327.50 1330.20 L1327.96 1334.97 L1328.58 1333.63 L1329.20 1333.33 L1329.82 1343.35 L1330.44 1333.05 L1331.06 1338.73 L1331.68 1343.06 L1331.70 1340.30 L1332.30 1344.16 L1332.92 1350.38 L1333.54 1349.25 L1334.16 1348.82 L1334.78 1355.82 L1335.10 1352.20 L1335.40 1350.25 L1336.02 1357.12 L1336.64 1357.55 L1337.26 1362.91 L1337.88 1363.90 L1338.50 1367.50 L1339.12 1363.07 L1339.74 1369.09 L1340.36 1370.35 L1340.98 1365.64 L1341.60 1370.99 L1342.22 1374.68 L1342.84 1369.96 L1343.46 1363.32 L1344.08 1376.54 L1344.70 1373.31 L1345.32 1371.41 L1345.94 1370.51 L1346.56 1371.09 L1347.18 1364.12 L1347.80 1368.69 L1348.42 1368.24 L1348.60 1369.20 L1349.04 1364.43 L1349.66 1370.02 L1350.28 1370.68 L1350.90 1373.87 L1351.52 1371.84 L1352.14 1374.47 L1352.76 1367.83 L1353.38 1369.64 L1354.00 1372.62 L1354.62 1368.13 L1355.24 1374.16 L1355.86 1365.97 L1356.48 1365.47 L1357.10 1371.35 L1357.72 1365.59 L1358.34 1368.93 L1358.96 1365.81 L1359.58 1368.99 L1360.20 1374.32 L1360.82 1366.28 L1361.44 1365.94 L1362.06 1375.17 L1362.68 1368.84 L1363.30 1366.11 L1363.92 1373.11 L1364.54 1369.47 L1365.16 1378.27 L1365.60 1370.80 L1365.78 1373.25 L1366.40 1372.03 L1367.02 1370.65 L1367.64 1368.72 L1368.26 1368.08 L1368.88 1377.85 L1369.50 1372.13 L1370.12 1366.75 L1370.74 1366.85 L1371.36 1372.57 L1371.98 1369.42 L1372.60 1368.24 L1373.22 1372.53 L1373.84 1370.44 L1374.46 1370.49 L1375.08 1373.22 L1375.70 1382.01 L1375.80 1374.20 L1376.32 1369.82 L1376.94 1372.93 L1377.56 1377.07 L1378.18 1370.77 L1378.80 1373.36 L1379.42 1369.50 L1380.04 1366.57 L1380.66 1372.45 L1381.28 1371.51 L1381.90 1369.61 L1382.52 1370.78 L1383.14 1367.95 L1383.76 1371.95 L1384.38 1370.90 L1385.00 1367.00 L1385.62 1368.54 L1386.24 1366.37 L1386.86 1363.62 L1387.48 1367.05 L1388.10 1364.50 L1388.72 1363.53 L1389.30 1365.80 L1389.34 1365.36 L1389.96 1363.65 L1390.58 1363.06 L1391.20 1363.16 L1391.82 1360.30 L1392.44 1356.75 L1392.70 1357.30 L1393.06 1366.51 L1393.68 1359.56 L1394.30 1356.63 L1394.92 1353.84 L1395.54 1357.09 L1396.16 1359.19 L1396.78 1357.43 L1397.40 1362.08 L1398.02 1358.18 L1398.64 1363.85 L1399.26 1361.15 L1399.50 1362.40 L1399.88 1358.76 L1400.50 1358.62 L1401.12 1359.48 L1401.74 1365.80 L1402.36 1362.91 L1402.98 1362.16 L1403.60 1357.72 L1404.22 1364.81 L1404.84 1366.28 L1405.46 1360.93 L1406.08 1365.92 L1406.70 1358.82 L1407.32 1368.96 L1407.94 1365.18 L1408.56 1364.13 L1409.18 1356.69 L1409.70 1364.10 L1409.80 1365.27 L1410.42 1364.47 L1411.04 1368.20 L1411.66 1364.45 L1412.28 1367.33 L1412.90 1363.53 L1413.52 1367.82 L1414.14 1360.64 L1414.76 1352.31 L1415.38 1363.53 L1416.00 1359.06 L1416.40 1359.00 L1416.62 1361.93 L1417.24 1354.28 L1417.86 1350.83 L1418.48 1361.67 L1419.10 1352.03 L1419.72 1356.69 L1420.34 1356.97 L1420.96 1351.29 L1421.58 1355.79 L1422.20 1355.12 L1422.82 1351.58 L1423.44 1356.33 L1424.06 1353.86 L1424.68 1349.45 L1424.90 1352.20 L1425.30 1351.34 L1425.92 1351.76 L1426.54 1359.32 L1427.16 1348.79 L1427.78 1357.45 L1428.40 1359.29 L1429.02 1349.37 L1429.64 1361.30 L1430.00 1357.30 L1430.26 1360.24 L1430.88 1354.07 L1431.50 1359.60 L1432.12 1362.61 L1432.70 1365.80 L1432.74 1363.04 L1433.36 1369.38 L1433.98 1374.00 L1434.60 1363.89 L1435.22 1352.13 L1435.84 1359.15 L1436.10 1359.00 L1436.46 1346.80 L1436.90 1331.90 L1437.08 1327.25 L1437.70 1311.21 L1438.32 1295.18 L1438.94 1279.15 L1439.00 1277.60 L1439.56 1299.53 L1440.18 1323.80 L1440.30 1328.50 L1440.80 1336.82 L1441.42 1326.64 L1442.04 1332.18 L1442.66 1331.38 L1443.28 1336.21 L1443.70 1331.90 L1443.90 1334.69 L1444.52 1343.33 L1445.14 1351.98 L1445.40 1355.60 L1445.76 1360.67 L1446.38 1363.68 L1447.00 1361.86 L1447.62 1364.38 L1448.24 1363.54 L1448.86 1361.79 L1449.48 1360.52 L1449.70 1362.40 L1450.10 1358.74 L1450.72 1355.20 L1451.34 1354.51 L1451.96 1348.37 L1452.58 1337.88 L1453.10 1333.60 L1453.20 1331.90 L1453.82 1321.36 L1454.44 1310.82 L1454.70 1306.40 L1455.06 1292.69 L1455.68 1269.08 L1455.90 1260.70 L1456.30 1269.01 L1456.92 1281.89 L1457.54 1294.77 L1458.10 1306.40 L1458.16 1304.91 L1458.78 1316.01 L1459.40 1321.22 L1460.02 1326.60 L1460.64 1333.46 L1460.70 1331.90 L1461.26 1335.85 L1461.88 1341.59 L1462.50 1339.87 L1463.12 1351.92 L1463.74 1354.21 L1464.10 1357.30 L1464.36 1360.21 L1464.98 1357.72 L1465.60 1356.19 L1466.22 1353.63 L1466.84 1365.86 L1467.46 1357.01 L1468.08 1345.68 L1468.70 1358.56 L1469.20 1353.90 L1469.32 1357.09 L1469.94 1357.39 L1470.56 1352.78 L1471.18 1352.06 L1471.80 1350.50 L1472.42 1359.93 L1473.04 1354.85 L1473.66 1361.17 L1474.20 1353.90 L1474.28 1352.19 L1474.90 1347.89 L1475.52 1340.52 L1476.14 1337.36 L1476.76 1334.60 L1477.38 1328.54 L1477.60 1325.90 L1478.00 1323.43 L1478.62 1329.71 L1479.24 1333.36 L1479.86 1330.02 L1480.48 1336.91 L1481.10 1331.24 L1481.72 1338.68 L1482.34 1350.00 L1482.70 1345.40 L1482.96 1347.39 L1483.58 1354.04 L1484.20 1356.71 L1484.82 1359.88 L1485.30 1362.40 L1485.44 1367.31 L1486.06 1364.12 L1486.68 1359.60 L1487.30 1369.05 L1487.92 1372.44 L1488.54 1364.84 L1489.16 1366.92 L1489.78 1366.40 L1490.40 1367.26 L1491.02 1368.39 L1491.20 1365.80 L1491.64 1366.15 L1492.26 1368.33 L1492.88 1365.86 L1493.50 1360.44 L1494.12 1369.08 L1494.74 1360.40 L1495.36 1358.39 L1495.98 1364.88 L1496.60 1361.31 L1497.22 1363.93 L1497.84 1361.76 L1498.46 1359.51 L1499.08 1365.99 L1499.70 1360.70 L1500.32 1358.60 L1500.94 1359.96 L1501.56 1362.39 L1502.18 1367.80 L1502.80 1364.76 L1503.42 1369.90 L1504.04 1368.87 L1504.66 1370.63 L1504.70 1370.80 L1505.28 1378.11 L1505.90 1369.15 L1506.52 1372.86 L1507.14 1370.39 L1507.76 1367.89 L1508.38 1375.04 L1509.00 1368.77 L1509.62 1373.21 L1510.24 1375.81 L1510.86 1372.84 L1511.48 1379.98 L1511.50 1375.90 L1512.10 1373.40 L1512.72 1371.71 L1513.34 1365.12 L1513.96 1369.60 L1514.58 1365.77 L1515.20 1366.10 L1515.80 1360.70 L1515.82 1360.35 L1516.44 1358.11 L1517.06 1350.88 L1517.68 1355.64 L1518.30 1347.10 L1518.92 1352.02 L1519.54 1345.73 L1520.16 1345.75 L1520.78 1340.00 L1521.40 1333.48 L1521.70 1338.60 L1522.02 1332.83 L1522.64 1340.08 L1523.26 1333.06 L1523.88 1333.54 L1524.50 1326.76 L1524.70 1330.20 L1525.12 1334.86 L1525.74 1331.16 L1526.36 1332.87 L1526.98 1336.57 L1527.60 1333.12 L1528.22 1337.68 L1528.50 1338.60 L1528.84 1340.02 L1529.46 1343.08 L1530.08 1349.17 L1530.70 1350.03 L1531.00 1352.20 L1531.32 1349.20 L1531.94 1355.59 L1532.56 1349.30 L1533.18 1344.79 L1533.80 1351.27 L1534.42 1349.14 L1535.04 1358.05 L1535.66 1344.45 L1536.10 1353.90 L1536.28 1356.52 L1536.90 1354.14 L1537.52 1341.15 L1538.14 1342.71 L1538.60 1342.00 L1538.76 1339.89 L1539.38 1338.42 L1540.00 1336.03 L1540.62 1337.57 L1541.24 1339.38 L1541.86 1331.42 L1542.48 1334.09 L1543.10 1329.08 L1543.72 1327.39 L1544.34 1329.28 L1544.60 1331.90 L1544.96 1321.12 L1545.58 1302.56 L1546.20 1283.99 L1546.30 1281.00 L1546.82 1251.29 L1547.10 1235.30 L1547.44 1244.10 L1548.06 1260.15 L1548.68 1276.19 L1548.80 1279.30 L1549.30 1287.27 L1549.92 1297.15 L1550.50 1306.40 L1550.54 1308.40 L1551.16 1314.01 L1551.78 1317.18 L1552.40 1317.94 L1553.02 1323.64 L1553.64 1336.87 L1553.90 1335.30 L1554.26 1330.93 L1554.88 1340.01 L1555.50 1328.26 L1556.12 1328.40 L1556.40 1326.80 L1556.74 1325.27 L1557.36 1337.96 L1557.98 1341.12 L1558.60 1342.70 L1559.00 1347.10 L1559.22 1348.10 L1559.84 1345.70 L1560.46 1345.50 L1561.08 1352.12 L1561.70 1351.96 L1562.32 1357.11 L1562.94 1353.77 L1563.56 1361.15 L1564.10 1357.30 L1564.18 1363.70 L1564.80 1358.04 L1565.42 1358.06 L1566.04 1346.77 L1566.66 1353.80 L1567.28 1347.38 L1567.90 1354.28 L1568.52 1353.02 L1569.14 1346.48 L1569.76 1345.16 L1570.38 1353.92 L1571.00 1345.35 L1571.62 1347.79 L1572.24 1342.63 L1572.50 1345.40 L1572.86 1342.00 L1573.48 1346.17 L1574.10 1344.19 L1574.72 1351.54 L1575.34 1353.33 L1575.96 1346.88 L1576.58 1349.62 L1577.20 1351.95 L1577.60 1353.90 L1577.82 1355.37 L1578.44 1353.62 L1579.06 1348.76 L1579.68 1357.51 L1580.30 1360.87 L1580.92 1361.83 L1581.54 1359.38 L1582.16 1350.11 L1582.78 1364.26 L1583.40 1361.48 L1584.02 1369.63 L1584.40 1365.80 L1584.64 1368.76 L1585.26 1354.56 L1585.88 1369.81 L1586.50 1375.55 L1587.12 1359.14 L1587.74 1358.89 L1588.36 1367.70 L1588.98 1362.63 L1589.60 1362.38 L1590.22 1365.92 L1590.84 1370.78 L1591.46 1360.24 L1592.08 1360.26 L1592.70 1362.99 L1592.90 1364.10 L1593.32 1365.71 L1593.94 1363.47 L1594.56 1366.24 L1595.18 1370.66 L1595.80 1378.23 L1596.42 1375.69 L1597.04 1366.89 L1597.10 1374.20 L1597.66 1373.36 L1598.28 1370.87 L1598.90 1364.52 L1599.52 1364.29 L1600.14 1360.76 L1600.76 1359.76 L1601.38 1354.36 L1601.40 1355.60 L1602.00 1355.81 L1602.62 1353.74 L1603.24 1358.07 L1603.86 1352.64 L1604.48 1343.29 L1605.10 1351.09 L1605.72 1341.03 L1606.34 1349.02 L1606.96 1344.19 L1607.30 1348.80 L1607.58 1347.59 L1608.20 1342.47 L1608.82 1334.98 L1609.00 1331.90 L1609.44 1329.80 L1610.06 1329.41 L1610.68 1320.24 L1611.30 1319.42 L1611.80 1316.20 L1611.92 1314.69 L1612.54 1322.36 L1613.16 1326.58 L1613.78 1328.50 L1614.40 1334.46 L1614.50 1336.20 L1615.02 1344.77 L1615.64 1338.91 L1616.26 1342.60 L1616.88 1339.20 L1617.50 1347.25 L1618.12 1335.09 L1618.20 1341.60 L1618.74 1330.86 L1619.36 1340.73 L1619.98 1341.98 L1620.60 1343.76 L1621.22 1346.89 L1621.84 1345.88 L1622.46 1339.89 L1622.70 1345.20 L1623.08 1347.34 L1623.70 1355.62 L1624.32 1354.74 L1624.94 1353.29 L1625.56 1359.83 L1626.18 1361.31 L1626.80 1361.55 L1627.20 1367.00 L1627.42 1362.31 L1628.04 1368.90 L1628.66 1361.56 L1629.28 1359.43 L1629.90 1361.87 L1630.52 1359.41 L1631.14 1361.60 L1631.76 1363.75 L1632.38 1353.03 L1633.00 1353.92 L1633.62 1352.92 L1634.24 1355.54 L1634.50 1356.10 L1634.86 1357.60 L1635.48 1362.68 L1636.10 1360.68 L1636.72 1353.06 L1637.34 1367.56 L1637.96 1366.57 L1638.58 1362.27 L1639.20 1367.48 L1639.82 1361.07 L1640.00 1363.40 L1640.44 1357.72 L1641.06 1363.90 L1641.68 1357.44 L1642.30 1354.21 L1642.92 1358.33 L1643.54 1358.57 L1644.16 1350.26 L1644.78 1365.46 L1645.40 1352.88 L1646.02 1354.22 L1646.64 1355.76 L1647.20 1354.30 L1647.26 1353.26 L1647.88 1354.68 L1648.50 1353.54 L1649.12 1350.39 L1649.74 1351.09 L1650.36 1348.08 L1650.98 1344.76 L1651.60 1348.04 L1652.22 1344.09 L1652.70 1347.00 L1652.84 1344.04 L1653.46 1330.91 L1654.08 1317.79 L1654.50 1308.90 L1654.70 1306.47 L1655.32 1302.79 L1655.94 1300.37 L1656.56 1300.95 L1657.18 1292.20 L1657.80 1297.16 L1658.10 1292.60 L1658.42 1292.70 L1659.04 1291.46 L1659.66 1286.50 L1660.28 1285.49 L1660.90 1282.00 L1661.52 1281.91 L1661.80 1281.70 L1662.14 1276.88 L1662.76 1268.10 L1663.38 1259.32 L1663.60 1256.20 L1664.00 1254.01 L1664.62 1249.45 L1665.24 1245.75 L1665.40 1245.30 L1665.86 1250.26 L1666.48 1255.29 L1667.10 1260.93 L1667.72 1266.97 L1668.34 1273.71 L1668.96 1277.66 L1669.58 1286.74 L1669.90 1287.10 L1670.20 1289.50 L1670.82 1283.50 L1671.44 1288.17 L1672.06 1284.62 L1672.68 1281.23 L1673.30 1273.73 L1673.60 1279.80 L1673.92 1276.95 L1674.54 1274.69 L1675.16 1267.19 L1675.78 1266.80 L1676.30 1263.50 L1676.40 1259.47 L1677.02 1234.46 L1677.20 1227.20 L1677.64 1200.73 L1678.26 1163.44 L1678.50 1149.00 L1678.88 1157.41 L1679.50 1171.13 L1680.12 1184.85 L1680.74 1198.57 L1680.80 1199.90 L1681.36 1218.65 L1681.98 1239.40 L1682.60 1260.15 L1682.70 1263.50 L1683.22 1268.74 L1683.84 1274.98 L1684.46 1281.23 L1685.08 1287.48 L1685.40 1290.70 L1685.70 1293.47 L1686.32 1301.16 L1686.94 1305.87 L1687.56 1310.80 L1687.60 1312.50 L1688.18 1304.57 L1688.80 1302.95 L1689.42 1298.56 L1690.04 1292.80 L1690.66 1293.58 L1690.80 1287.10 L1691.28 1273.29 L1691.90 1255.44 L1692.52 1237.60 L1692.60 1235.30 L1693.14 1245.98 L1693.76 1258.25 L1694.38 1270.52 L1695.00 1282.79 L1695.40 1290.70 L1695.62 1292.92 L1696.24 1299.19 L1696.86 1305.46 L1697.48 1311.73 L1698.10 1318.00 L1698.72 1316.34 L1699.34 1316.05 L1699.96 1316.56 L1700.58 1322.70 L1701.20 1326.41 L1701.82 1327.00 L1702.44 1324.41 L1703.06 1337.67 L1703.50 1327.10 L1703.68 1323.06 L1704.30 1332.71 L1704.92 1338.69 L1705.54 1338.50 L1706.16 1342.49 L1706.78 1339.19 L1707.40 1341.68 L1708.02 1331.95 L1708.64 1345.76 L1709.00 1345.20 L1709.26 1344.94 L1709.88 1347.13 L1710.50 1356.54 L1711.12 1348.86 L1711.74 1358.45 L1712.36 1357.72 L1712.60 1358.00 L1712.98 1366.47 L1713.60 1362.36 L1714.22 1363.95 L1714.84 1362.27 L1715.46 1364.07 L1716.08 1360.64 L1716.70 1365.46 L1717.32 1363.51 L1717.94 1365.62 L1718.10 1363.40 L1718.56 1360.84 L1719.18 1355.55 L1719.80 1358.57 L1720.42 1366.98 L1721.04 1368.94 L1721.66 1361.85 L1722.28 1368.14 L1722.90 1367.25 L1723.52 1355.10 L1724.14 1359.92 L1724.76 1363.23 L1725.30 1363.40 L1725.38 1360.03 L1726.00 1358.91 L1726.62 1352.88 L1727.24 1349.22 L1727.86 1345.90 L1728.48 1341.49 L1729.00 1336.20 L1729.10 1334.48 L1729.72 1323.84 L1730.34 1313.20 L1730.80 1305.30 L1730.96 1306.95 L1731.58 1309.12 L1732.20 1311.50 L1732.82 1316.34 L1733.44 1326.40 L1734.06 1315.98 L1734.40 1323.40 L1734.68 1324.63 L1735.30 1330.52 L1735.92 1329.28 L1736.54 1331.23 L1737.16 1337.16 L1737.78 1339.07 L1738.10 1336.20 L1738.40 1340.49 L1739.02 1341.20 L1739.64 1340.79 L1740.26 1345.32 L1740.88 1353.20 L1741.50 1352.16 L1741.70 1350.70 L1742.12 1351.85 L1742.74 1351.36 L1743.36 1347.04 L1743.98 1351.97 L1744.60 1352.12 L1745.22 1348.78 L1745.84 1354.08 L1746.46 1358.88 L1747.08 1354.03 L1747.10 1354.30 L1747.70 1359.57 L1748.32 1369.98 L1748.94 1360.58 L1749.56 1357.81 L1750.18 1359.28 L1750.80 1360.06 L1751.42 1361.85 L1752.04 1362.84 L1752.66 1359.54 L1753.28 1371.33 L1753.90 1372.77 L1754.40 1367.00 L1754.52 1379.21 L1755.14 1354.59 L1755.76 1361.54 L1756.38 1361.01 L1757.00 1361.57 L1757.62 1359.02 L1758.24 1355.90 L1758.86 1356.03 L1759.48 1363.11 L1759.90 1359.80 L1760.10 1358.35 L1760.72 1357.38 L1761.34 1350.20 L1761.96 1350.66 L1762.58 1347.76 L1763.20 1340.99 L1763.50 1341.60 L1763.82 1335.90 L1764.44 1332.63 L1765.06 1330.35 L1765.68 1326.26 L1766.20 1321.60 L1766.30 1320.29 L1766.92 1312.16 L1767.54 1304.03 L1768.00 1298.00 L1768.16 1300.73 L1768.78 1307.59 L1769.40 1308.04 L1770.02 1312.36 L1770.64 1318.52 L1770.80 1321.60 L1771.26 1322.90 L1771.88 1331.13 L1772.50 1332.89 L1773.12 1335.99 L1773.74 1339.78 L1774.36 1345.18 L1774.40 1345.20 L1774.98 1349.72 L1775.60 1338.96 L1776.22 1352.44 L1776.84 1347.93 L1777.46 1345.63 L1778.08 1351.56 L1778.70 1352.40 L1779.32 1353.23 L1779.94 1352.54 L1780.56 1357.08 L1781.18 1355.89 L1781.70 1354.30 L1781.80 1350.86 L1782.42 1358.87 L1783.04 1353.89 L1783.66 1354.77 L1784.28 1348.51 L1784.90 1361.68 L1785.52 1351.86 L1786.14 1351.21 L1786.76 1357.34 L1787.38 1361.23 L1788.00 1357.68 L1788.62 1351.29 L1789.24 1350.81 L1789.86 1354.66 L1790.48 1351.06 L1790.70 1356.10 L1791.10 1357.85 L1791.72 1359.69 L1792.34 1357.76 L1792.96 1366.75 L1793.58 1358.85 L1794.20 1361.44 L1794.50 1359.80 L1794.82 1361.53 L1795.44 1353.62 L1796.06 1353.08 L1796.68 1354.56 L1797.30 1353.35 L1797.92 1349.77 L1798.54 1354.91 L1799.10 1347.00 L1799.16 1344.47 L1799.78 1344.72 L1800.40 1344.39 L1801.02 1340.89 L1801.64 1337.50 L1802.26 1333.31 L1802.70 1334.30 L1802.88 1335.23 L1803.50 1329.44 L1804.12 1324.11 L1804.74 1318.22 L1805.36 1311.74 L1805.40 1312.50 L1805.98 1309.18 L1806.60 1308.99 L1807.22 1305.47 L1807.80 1300.70 L1807.84 1298.62 L1808.46 1302.01 L1809.08 1310.04 L1809.70 1315.85 L1810.00 1316.20 L1810.32 1314.15 L1810.94 1317.38 L1811.56 1322.39 L1812.18 1324.64 L1812.80 1329.42 L1813.42 1327.68 L1813.60 1332.50 L1814.04 1336.27 L1814.66 1338.56 L1815.28 1350.24 L1815.90 1350.55 L1816.30 1352.50 L1816.52 1357.35 L1817.14 1359.29 L1817.76 1353.09 L1818.38 1354.22 L1819.00 1348.78 L1819.62 1356.84 L1820.24 1353.58 L1820.86 1353.35 L1820.90 1352.50 L1821.48 1353.00 L1822.10 1359.07 L1822.72 1348.73 L1823.34 1355.81 L1823.96 1348.50 L1824.58 1358.95 L1825.20 1360.02 L1825.82 1359.94 L1826.30 1358.00 L1826.44 1368.20 L1827.06 1368.03 L1827.68 1351.29 L1828.30 1360.67 L1828.92 1362.80 L1829.54 1374.12 L1830.16 1369.96 L1830.78 1373.98 L1830.90 1368.90 L1831.40 1370.12 L1832.02 1368.21 L1832.64 1367.47 L1833.26 1367.43 L1833.88 1363.63 L1834.50 1365.27 L1835.12 1364.87 L1835.74 1363.78 L1836.36 1364.37 L1836.98 1357.81 L1837.20 1359.80 L1837.60 1355.68 L1838.22 1353.13 L1838.84 1346.28 L1839.46 1345.21 L1840.08 1333.48 L1840.70 1330.25 L1840.90 1327.10 L1841.32 1301.67 L1841.80 1272.60 L1841.94 1269.07 L1842.56 1253.46 L1843.18 1237.85 L1843.80 1222.24 L1844.00 1217.20 L1844.42 1222.33 L1845.04 1229.91 L1845.66 1237.48 L1846.28 1245.06 L1846.30 1245.30 L1846.90 1281.63 L1847.20 1299.80 L1847.52 1295.92 L1848.14 1288.42 L1848.76 1280.91 L1849.00 1278.00 L1849.38 1289.26 L1850.00 1307.63 L1850.62 1326.00 L1850.90 1334.30 L1851.24 1337.31 L1851.86 1339.28 L1852.48 1344.29 L1853.10 1349.04 L1853.72 1345.66 L1854.34 1354.38 L1854.96 1359.34 L1855.40 1358.00 L1855.58 1358.76 L1856.20 1362.65 L1856.82 1359.87 L1857.44 1361.71 L1858.06 1366.70 L1858.68 1363.26 L1859.30 1366.95 L1859.92 1362.65 L1860.54 1370.94 L1861.16 1369.73 L1861.78 1378.75 L1862.40 1371.07 L1862.70 1372.50 L1863.02 1366.28 L1863.64 1369.82 L1864.26 1374.54 L1864.88 1367.39 L1865.50 1376.07 L1866.12 1381.91 L1866.74 1363.37 L1867.36 1358.27 L1867.98 1363.77 L1868.60 1364.84 L1869.22 1368.42 L1869.84 1368.75 L1869.90 1367.00 L1870.46 1363.32 L1871.08 1358.31 L1871.70 1359.82 L1872.32 1356.55 L1872.94 1353.31 L1873.56 1347.97 L1874.18 1347.75 L1874.80 1343.25 L1875.40 1341.60 L1875.42 1346.34 L1876.04 1346.33 L1876.66 1338.15 L1877.28 1340.07 L1877.90 1340.84 L1878.52 1337.60 L1879.00 1341.60 L1879.14 1341.45 L1879.76 1342.16 L1880.38 1342.75 L1881.00 1359.36 L1881.62 1339.43 L1882.24 1344.06 L1882.86 1359.20 L1883.48 1354.93 L1883.60 1352.50 L1884.10 1344.53 L1884.72 1342.23 L1885.34 1332.86 L1885.40 1336.20 L1885.96 1336.22 L1886.58 1331.28 L1887.20 1330.18 L1887.82 1325.72 L1888.10 1325.20 L1888.44 1330.02 L1889.06 1338.80 L1889.68 1347.58 L1889.90 1350.70 L1890.30 1347.05 L1890.92 1340.40 L1891.54 1335.78 L1892.16 1329.90 L1892.60 1327.10 L1892.78 1325.05 L1893.40 1332.40 L1894.02 1335.61 L1894.64 1343.14 L1895.26 1346.92 L1895.40 1350.70 L1895.88 1345.37 L1896.50 1338.48 L1897.12 1331.59 L1897.74 1324.70 L1898.10 1320.70 L1898.36 1322.38 L1898.98 1333.05 L1899.60 1331.16 L1900.22 1338.82 L1900.80 1345.20 L1900.84 1344.61 L1901.46 1343.27 L1902.08 1352.12 L1902.70 1348.34 L1903.32 1360.48 L1903.94 1353.57 L1904.56 1363.73 L1905.18 1361.01 L1905.30 1361.60 L1905.80 1365.49 L1906.42 1362.60 L1907.04 1358.68 L1907.66 1359.47 L1908.28 1353.27 L1908.90 1353.99 L1909.52 1351.17 L1910.14 1358.46 L1910.76 1357.45 L1911.38 1358.69 L1912.00 1358.75 L1912.62 1351.92 L1913.24 1359.80 L1913.50 1354.30 L1913.86 1357.07 L1914.48 1359.64 L1915.10 1364.00 L1915.72 1361.44 L1916.34 1358.39 L1916.96 1362.01 L1917.58 1367.56 L1918.20 1364.16 L1918.82 1367.80 L1919.44 1372.21 L1920.06 1374.05 L1920.68 1372.92 L1920.80 1370.70 L1921.30 1367.98 L1921.92 1372.77 L1922.54 1367.64 L1923.16 1370.03 L1923.78 1375.21 L1924.40 1367.98 L1925.02 1361.63 L1925.64 1360.76 L1926.26 1364.78 L1926.88 1369.99 L1927.50 1367.02 L1928.12 1363.96 L1928.74 1365.30 L1929.36 1358.90 L1929.98 1367.31 L1930.60 1360.97 L1931.22 1367.75 L1931.70 1361.60 L1931.84 1361.17 L1932.46 1358.11 L1933.08 1363.06 L1933.70 1360.34 L1934.32 1366.95 L1934.94 1360.57 L1935.56 1364.65 L1936.18 1365.23 L1936.80 1362.29 L1937.42 1360.25 L1938.04 1371.88 L1938.66 1362.96 L1939.28 1372.48 L1939.90 1361.40 L1940.52 1367.83 L1941.14 1368.09 L1941.76 1369.57 L1942.38 1367.28 L1942.60 1368.90 L1943.00 1361.82 L1943.62 1370.53 L1944.24 1368.57 L1944.86 1371.55 L1945.48 1375.21 L1946.10 1375.86 L1946.72 1373.96 L1947.34 1366.44 L1947.96 1362.53 L1948.58 1369.17 L1949.20 1369.25 L1949.82 1366.52 L1949.90 1370.70 L1950.44 1366.20 L1951.06 1372.17 L1951.68 1366.61 L1952.30 1366.92 L1952.92 1374.31 L1953.54 1364.39 L1954.16 1364.13 L1954.78 1360.76 L1955.40 1358.36 L1956.02 1362.15 L1956.20 1358.00 L1956.64 1356.40 L1957.26 1348.72 L1957.88 1351.37 L1958.50 1342.99 L1959.12 1347.31 L1959.74 1340.11 L1960.36 1337.84 L1960.80 1336.20 L1960.98 1336.07 L1961.60 1335.88 L1962.22 1335.82 L1962.84 1336.16 L1963.46 1333.93 L1964.08 1332.20 L1964.70 1344.90 L1965.32 1333.96 L1965.94 1334.78 L1966.20 1336.20 L1966.56 1339.57 L1967.18 1341.14 L1967.80 1338.96 L1968.42 1344.41 L1969.04 1345.87 L1969.66 1349.14 L1970.28 1351.80 L1970.70 1354.30 L1970.90 1360.70 L1971.52 1362.17 L1972.14 1357.59 L1972.76 1358.76 L1973.38 1350.46 L1974.00 1358.72 L1974.62 1363.24 L1975.24 1355.05 L1975.86 1352.76 L1976.48 1350.29 L1977.10 1356.33 L1977.72 1355.18 L1978.34 1350.98 L1978.90 1352.50 L1978.96 1350.14 L1979.58 1364.78 L1980.20 1348.90 L1980.82 1355.90 L1981.44 1348.60 L1982.06 1348.60 L1982.68 1367.02 L1983.30 1349.69 L1983.92 1359.98 L1984.40 1356.00 L1984.54 1356.20 L1985.16 1355.78 L1985.78 1352.71 L1986.40 1374.46 L1987.02 1362.57 L1987.64 1362.61 L1988.26 1363.44 L1988.88 1360.25 L1989.50 1368.10 L1989.80 1368.00 L1990.12 1374.97 L1990.74 1366.00 L1991.36 1370.09 L1991.98 1364.69 L1992.60 1372.79 L1993.22 1374.00 L1993.84 1381.12 L1994.46 1374.92 L1994.50 1374.30 L1995.08 1369.15 L1995.70 1372.53 L1996.32 1374.51 L1996.94 1371.35 L1997.56 1368.28 L1998.18 1377.64 L1998.80 1368.30 L1999.42 1371.48 L2000.04 1369.02 L2000.66 1375.72 L2001.28 1376.04 L2001.90 1369.75 L2002.52 1376.09 L2003.14 1376.53 L2003.60 1372.50 L2003.76 1378.73 L2004.38 1373.69 L2005.00 1370.87 L2005.62 1367.08 L2006.24 1367.83 L2006.86 1371.33 L2007.48 1370.69 L2008.10 1373.19 L2008.72 1365.63 L2009.34 1363.76 L2009.96 1362.78 L2010.58 1362.38 L2010.90 1365.20 L2011.20 1368.80 L2011.82 1360.98 L2012.44 1373.98 L2013.06 1372.49 L2013.68 1367.73 L2014.30 1359.95 L2014.92 1355.37 L2015.54 1356.37 L2016.16 1361.99 L2016.78 1353.96 L2017.20 1361.60 L2017.40 1355.96 L2018.02 1338.46 L2018.10 1336.20 L2018.64 1327.99 L2019.26 1318.57 L2019.60 1313.40 L2019.88 1318.15 L2020.50 1328.66 L2021.12 1339.17 L2021.74 1349.68 L2021.80 1350.70 L2022.36 1354.15 L2022.98 1338.20 L2023.60 1344.37 L2024.22 1347.83 L2024.84 1344.61 L2025.40 1345.20 L2025.46 1347.43 L2026.08 1347.18 L2026.70 1344.72 L2027.32 1357.67 L2027.94 1361.96 L2028.56 1364.92 L2028.70 1363.40 L2029.18 1357.10 L2029.80 1356.14 L2030.42 1351.32 L2031.04 1342.75 L2031.66 1337.02 L2031.80 1336.20 L2032.28 1331.24 L2032.90 1330.98 L2033.52 1329.29 L2034.14 1321.88 L2034.76 1320.21 L2034.90 1321.60 L2035.38 1319.24 L2036.00 1323.27 L2036.62 1328.70 L2037.24 1329.69 L2037.86 1331.80 L2038.10 1332.50 L2038.48 1331.33 L2039.10 1339.88 L2039.72 1341.16 L2040.34 1341.60 L2040.96 1341.27 L2041.58 1342.20 L2042.20 1349.97 L2042.70 1350.70 L2042.82 1356.99 L2043.44 1360.92 L2044.06 1352.34 L2044.68 1358.51 L2045.30 1359.15 L2045.92 1363.16 L2046.54 1367.83 L2047.16 1362.05 L2047.20 1365.20 L2047.78 1367.26 L2048.40 1366.33 L2049.02 1362.38 L2049.64 1370.64 L2050.26 1371.49 L2050.88 1370.62 L2051.50 1370.02 L2052.12 1372.36 L2052.74 1369.42 L2053.36 1372.55 L2053.98 1369.13 L2054.50 1368.90 L2054.60 1370.41 L2055.22 1367.82 L2055.84 1372.01 L2056.46 1365.42 L2057.08 1373.40 L2057.70 1374.57 L2058.32 1372.74 L2058.94 1374.56 L2059.56 1373.93 L2060.18 1369.71 L2060.80 1368.36 L2061.42 1378.41 L2061.70 1372.50 L2062.04 1369.56 L2062.66 1369.86 L2063.28 1371.42 L2063.90 1362.72 L2064.52 1365.59 L2065.14 1365.23 L2065.76 1371.31 L2066.38 1365.54 L2067.00 1372.78 L2067.62 1366.07 L2068.24 1372.61 L2068.86 1365.68 L2069.48 1359.14 L2070.10 1375.25 L2070.72 1361.15 L2070.80 1365.20 L2071.34 1365.55 L2071.96 1363.71 L2072.58 1366.02 L2073.20 1361.99 L2073.82 1364.42 L2074.44 1356.84 L2075.06 1364.03 L2075.68 1357.31 L2076.30 1358.00 L2076.92 1353.75 L2077.54 1356.34 L2078.16 1352.81 L2078.78 1352.63 L2079.40 1349.22 L2080.02 1351.87 L2080.64 1348.13 L2080.80 1350.70 L2081.26 1346.33 L2081.88 1341.77 L2082.50 1333.28 L2083.12 1328.33 L2083.50 1327.10 L2083.74 1324.45 L2084.36 1317.61 L2084.98 1310.77 L2085.60 1303.93 L2086.22 1297.08 L2086.30 1296.20 L2086.84 1304.20 L2087.46 1313.39 L2088.08 1322.57 L2088.70 1331.76 L2089.00 1336.20 L2089.32 1335.96 L2089.94 1334.49 L2090.56 1329.77 L2091.18 1337.11 L2091.70 1336.20 L2091.80 1339.31 L2092.42 1339.71 L2093.04 1349.82 L2093.66 1352.41 L2094.28 1360.80 L2094.40 1358.00 L2094.90 1355.07 L2095.52 1349.67 L2096.14 1369.56 L2096.76 1363.30 L2097.38 1368.71 L2098.00 1361.90 L2098.10 1363.40 L2098.62 1366.97 L2099.24 1364.36 L2099.86 1356.70 L2100.48 1359.06 L2100.80 1356.10 L2101.10 1361.73 L2101.72 1352.37 L2102.34 1353.81 L2102.96 1358.23 L2103.58 1358.53 L2104.20 1359.56 L2104.82 1353.85 L2105.44 1363.61 L2106.06 1359.86 L2106.68 1371.25 L2107.20 1358.00 L2107.30 1355.58 L2107.92 1355.89 L2108.54 1354.71 L2109.16 1346.83 L2109.78 1347.70 L2110.40 1343.12 L2111.02 1342.72 L2111.64 1340.45 L2111.70 1339.80 L2112.26 1328.31 L2112.88 1315.59 L2113.50 1302.87 L2114.12 1290.15 L2114.74 1277.43 L2114.80 1276.20 L2115.36 1286.38 L2115.98 1297.65 L2116.60 1308.91 L2117.10 1318.00 L2117.22 1317.64 L2117.84 1322.14 L2118.46 1321.84 L2119.08 1327.62 L2119.70 1327.51 L2120.32 1326.64 L2120.80 1327.10 L2120.94 1326.96 L2121.56 1332.25 L2122.18 1334.80 L2122.80 1346.63 L2123.42 1345.35 L2124.04 1353.60 L2124.66 1353.17 L2125.28 1358.28 L2125.30 1358.00 L2125.90 1358.23 L2126.52 1366.18 L2127.14 1364.33 L2127.76 1363.21 L2128.38 1364.25 L2129.00 1357.24 L2129.62 1365.59 L2130.24 1364.47 L2130.80 1367.00 L2130.86 1362.33 L2131.48 1371.56 L2132.10 1374.86 L2132.72 1368.18 L2133.34 1365.56 L2133.96 1368.76 L2134.58 1371.46 L2135.20 1369.41 L2135.82 1365.08 L2136.44 1375.57 L2137.06 1368.74 L2137.68 1373.69 L2138.30 1371.21 L2138.92 1373.39 L2139.54 1376.24 L2139.90 1372.50 L2140.16 1375.97 L2140.78 1369.21 L2141.40 1378.62 L2142.02 1375.78 L2142.64 1371.59 L2143.26 1369.72 L2143.88 1367.96 L2144.50 1373.19 L2145.12 1378.82 L2145.74 1368.50 L2146.36 1376.64 L2146.98 1370.27 L2147.60 1367.59 L2148.22 1373.22 L2148.84 1374.60 L2149.46 1378.67 L2150.08 1377.67 L2150.70 1369.38 L2150.80 1372.50 L2151.32 1377.98 L2151.94 1370.48 L2152.56 1370.32 L2153.18 1366.52 L2153.80 1369.56 L2154.42 1371.35 L2155.04 1374.19 L2155.66 1370.11 L2156.28 1366.31 L2156.90 1378.16 L2157.52 1361.63 L2158.14 1374.52 L2158.76 1367.47 L2159.38 1371.15 L2160.00 1365.47 L2160.62 1361.24 L2161.24 1369.73 L2161.70 1367.00 L2161.86 1368.31 L2162.48 1363.86 L2163.10 1363.52 L2163.72 1364.16 L2164.34 1364.14 L2164.96 1363.03 L2165.58 1367.39 L2166.20 1355.74 L2166.82 1352.50 L2167.10 1358.00 L2167.44 1360.10 L2168.06 1359.45 L2168.68 1359.09 L2169.30 1351.65 L2169.92 1354.28 L2170.54 1354.15 L2171.16 1351.12 L2171.78 1357.43 L2172.40 1362.52 L2173.02 1354.87 L2173.64 1350.70 L2174.26 1353.01 L2174.40 1352.50 L2174.88 1355.96 L2175.50 1348.80 L2176.12 1355.72 L2176.74 1359.64 L2177.36 1356.11 L2177.98 1359.15 L2178.60 1355.75 L2178.90 1361.60 L2179.22 1365.89 L2179.84 1367.43 L2180.46 1360.81 L2181.08 1357.40 L2181.70 1359.81 L2182.32 1357.18 L2182.94 1354.65 L2183.56 1357.98 L2184.18 1356.86 L2184.80 1356.61 L2185.30 1356.10 L2185.42 1358.35 L2186.04 1352.29 L2186.66 1360.83 L2187.28 1361.01 L2187.90 1357.96 L2188.52 1352.15 L2189.00 1357.00" fill="none" stroke="#000" stroke-width="3" stroke-linejoin="miter" stroke-miterlimit="2" shape-rendering="crispEdges"/>
<g stroke="#000" stroke-width="8" fill="none" stroke-linejoin="round">
<rect x="330" y="56" width="1860" height="1371"/>
</g>
<g stroke="#000" stroke-width="8" stroke-linecap="round">
<line x1="303" y1="1419.0" x2="330" y2="1419.0"/>
<line x1="303" y1="1248.6" x2="330" y2="1248.6"/>
<line x1="303" y1="1078.2" x2="330" y2="1078.2"/>
<line x1="303" y1="907.9" x2="330" y2="907.9"/>
<line x1="303" y1="737.5" x2="330" y2="737.5"/>
<line x1="303" y1="567.1" x2="330" y2="567.1"/>
<line x1="303" y1="396.8" x2="330" y2="396.8"/>
<line x1="303" y1="226.4" x2="330" y2="226.4"/>
<line x1="303" y1="56.0" x2="330" y2="56.0"/>
<line x1="316" y1="1333.8" x2="330" y2="1333.8"/>
<line x1="316" y1="1163.4" x2="330" y2="1163.4"/>
<line x1="316" y1="993.1" x2="330" y2="993.1"/>
<line x1="316" y1="822.7" x2="330" y2="822.7"/>
<line x1="316" y1="652.3" x2="330" y2="652.3"/>
<line x1="316" y1="481.9" x2="330" y2="481.9"/>
<line x1="316" y1="311.6" x2="330" y2="311.6"/>
<line x1="316" y1="141.2" x2="330" y2="141.2"/>
<line x1="330.0" y1="1427" x2="330.0" y2="1455"/>
<line x1="640.0" y1="1427" x2="640.0" y2="1455"/>
<line x1="950.0" y1="1427" x2="950.0" y2="1455"/>
<line x1="1260.0" y1="1427" x2="1260.0" y2="1455"/>
<line x1="1570.0" y1="1427" x2="1570.0" y2="1455"/>
<line x1="1880.0" y1="1427" x2="1880.0" y2="1455"/>
<line x1="2190.0" y1="1427" x2="2190.0" y2="1455"/>
<line x1="485.0" y1="1427" x2="485.0" y2="1439"/>
<line x1="795.0" y1="1427" x2="795.0" y2="1439"/>
<line x1="1105.0" y1="1427" x2="1105.0" y2="1439"/>
<line x1="1415.0" y1="1427" x2="1415.0" y2="1439"/>
<line x1="1725.0" y1="1427" x2="1725.0" y2="1439"/>
<line x1="2035.0" y1="1427" x2="2035.0" y2="1439"/>
</g>
<g style="font-family:'Liberation Serif','Times New Roman',serif;font-weight:bold;font-size:61px" fill="#000">
<text x="285.4" y="1436.4" text-anchor="end">0</text>
<text x="285.4" y="1266.0" text-anchor="end">10,000</text>
<text x="285.4" y="1095.7" text-anchor="end">20,000</text>
<text x="285.4" y="925.3" text-anchor="end">30,000</text>
<text x="285.4" y="754.9" text-anchor="end">40,000</text>
<text x="285.4" y="584.5" text-anchor="end">50,000</text>
<text x="285.4" y="414.1" text-anchor="end">60,000</text>
<text x="285.4" y="243.8" text-anchor="end">70,000</text>
<text x="285.4" y="73.4" text-anchor="end">80,000</text>
<text x="331.0" y="1520.5" text-anchor="middle">10</text>
<text x="641.0" y="1520.5" text-anchor="middle">20</text>
<text x="951.0" y="1520.5" text-anchor="middle">30</text>
<text x="1261.0" y="1520.5" text-anchor="middle">40</text>
<text x="1571.0" y="1520.5" text-anchor="middle">50</text>
<text x="1881.0" y="1520.5" text-anchor="middle">60</text>
<text x="2191.0" y="1520.5" text-anchor="middle">70</text>
</g>
<text style="font-family:'Liberation Serif','Times New Roman',serif;font-weight:bold;font-size:73.5px" transform="translate(82,946.5) rotate(-90)">Intensity/(a.u)</text>
<text style="font-family:'Liberation Serif','Times New Roman',serif;font-weight:bold;font-size:74px" x="1082" y="1618.8">2θ/(degree)</text>
<g style="font-family:'Liberation Serif','Times New Roman',serif;font-weight:bold" fill="#000000"><text x="1427.8" y="113.2" style="font-size:51px">0:&#160;MoO</text><text x="1596.3" y="138.2" style="font-size:30px">2</text><text x="1611.3" y="113.2" style="font-size:51px">&#160;(PDF&#160;card&#160;No.&#160;32-671)</text></g>
<g style="font-family:'Liberation Serif','Times New Roman',serif;font-weight:bold" fill="#FF0000"><text x="1427.8" y="226.5" style="font-size:51px">1:&#160;α-MoO</text><text x="1641.8" y="251.5" style="font-size:30px">3</text><text x="1656.8" y="226.5" style="font-size:51px">&#160;(PDF&#160;card&#160;No.&#160;5-508)</text></g>
<g style="font-family:'Liberation Serif','Times New Roman',serif;font-weight:bold" fill="#0000FF"><text x="1427.8" y="339.9" style="font-size:51px">2:&#160;β-MoO</text><text x="1640.2" y="364.9" style="font-size:30px">3</text><text x="1655.2" y="339.9" style="font-size:51px">&#160;(PDF&#160;card&#160;No.&#160;47-1081)</text></g>
<g style="font-family:'Liberation Serif','Times New Roman',serif;font-weight:bold" fill="#FF00FF"><text x="1427.8" y="453.2" style="font-size:51px">3:&#160;Mo</text><text x="1556.7" y="478.2" style="font-size:30px">4</text><text x="1571.7" y="453.2" style="font-size:51px">O</text><text x="1611.3" y="478.2" style="font-size:30px">11</text><text x="1641.3" y="453.2" style="font-size:51px">&#160;(PDF&#160;card&#160;No.&#160;65-397)</text></g>
<g style="font-family:'Liberation Serif','Times New Roman',serif;font-weight:bold" fill="#008000"><text x="1427.8" y="566.5" style="font-size:51px">4:&#160;Mo</text><text x="1556.7" y="591.5" style="font-size:30px">8</text><text x="1571.7" y="566.5" style="font-size:51px">O</text><text x="1611.3" y="591.5" style="font-size:30px">23</text><text x="1641.3" y="566.5" style="font-size:51px">&#160;(PDF&#160;card&#160;No.&#160;5-339)</text></g>
<g style="font-family:'Liberation Serif','Times New Roman',serif;font-weight:bold" fill="#8000FF"><text x="1427.8" y="679.9" style="font-size:51px">5:&#160;Mo</text><text x="1556.7" y="704.9" style="font-size:30px">9</text><text x="1571.7" y="679.9" style="font-size:51px">O</text><text x="1611.3" y="704.9" style="font-size:30px">26</text><text x="1641.3" y="679.9" style="font-size:51px">&#160;(PDF&#160;card&#160;No.&#160;12-753)</text></g>
<text x="405.6" y="659.9" style="font-family:'Liberation Serif','Times New Roman',serif;font-size:51px;font-weight:bold" fill="#FF0000">1</text>
<text x="653.4" y="1339.6" style="font-family:'Liberation Serif','Times New Roman',serif;font-size:51px;font-weight:normal" fill="#FF00FF" stroke="#FF00FF" stroke-width="1.6" stroke-linejoin="round">3</text>
<text x="682.0" y="1334.0" style="font-family:'Liberation Serif','Times New Roman',serif;font-size:51px;font-weight:normal" fill="#008000" stroke="#008000" stroke-width="1.6" stroke-linejoin="round">4</text>
<text x="692.5" y="1298.4" style="font-family:'Liberation Serif','Times New Roman',serif;font-size:51px;font-weight:normal" fill="#FF00FF" stroke="#FF00FF" stroke-width="1.6" stroke-linejoin="round">3</text>
<text x="722.9" y="841.3" style="font-family:'Liberation Serif','Times New Roman',serif;font-size:51px;font-weight:bold" fill="#0000FF">2</text>
<text x="734.5" y="965.2" style="font-family:'Liberation Serif','Times New Roman',serif;font-size:51px;font-weight:bold" fill="#FF0000">1</text>
<text x="744.0" y="1219.2" style="font-family:'Liberation Serif','Times New Roman',serif;font-size:51px;font-weight:normal" fill="#8000FF" stroke="#8000FF" stroke-width="1.6" stroke-linejoin="round">5</text>
<text x="742.5" y="1257.5" style="font-family:'Liberation Serif','Times New Roman',serif;font-size:51px;font-weight:normal" fill="#FF00FF" stroke="#FF00FF" stroke-width="1.6" stroke-linejoin="round">3</text>
<text x="771.8" y="1327.7" style="font-family:'Liberation Serif','Times New Roman',serif;font-size:51px;font-weight:normal" fill="#8000FF" stroke="#8000FF" stroke-width="1.6" stroke-linejoin="round">5</text>
<text x="784.5" y="1035.6" style="font-family:'Liberation Serif','Times New Roman',serif;font-size:51px;font-weight:bold" fill="#0000FF">2</text>
<text x="803.5" y="160.0" style="font-family:'Liberation Serif','Times New Roman',serif;font-size:51px;font-weight:bold" fill="#FF0000">1</text>
<text x="817.9" y="549.0" style="font-family:'Liberation Serif','Times New Roman',serif;font-size:51px;font-weight:bold" fill="#0000FF">2</text>
<text x="819.0" y="587.3" style="font-family:'Liberation Serif','Times New Roman',serif;font-size:51px;font-weight:bold" fill="#000000">0</text>
<text x="832.8" y="1251.7" style="font-family:'Liberation Serif','Times New Roman',serif;font-size:51px;font-weight:normal" fill="#8000FF" stroke="#8000FF" stroke-width="1.6" stroke-linejoin="round">5</text>
<text x="832.9" y="1286.0" style="font-family:'Liberation Serif','Times New Roman',serif;font-size:51px;font-weight:bold" fill="#0000FF">2</text>
<text x="854.3" y="658.0" style="font-family:'Liberation Serif','Times New Roman',serif;font-size:51px;font-weight:bold" fill="#FF0000">1</text>
<text x="925.4" y="1330.0" style="font-family:'Liberation Serif','Times New Roman',serif;font-size:51px;font-weight:bold" fill="#FF0000">1</text>
<text x="998.7" y="1336.0" style="font-family:'Liberation Serif','Times New Roman',serif;font-size:51px;font-weight:bold" fill="#0000FF">2</text>
<text x="1033.5" y="1271.8" style="font-family:'Liberation Serif','Times New Roman',serif;font-size:51px;font-weight:bold" fill="#FF0000">1</text>
<text x="1052.2" y="1181.9" style="font-family:'Liberation Serif','Times New Roman',serif;font-size:51px;font-weight:bold" fill="#FF0000">1</text>
<text x="1069.5" y="1299.7" style="font-family:'Liberation Serif','Times New Roman',serif;font-size:51px;font-weight:bold" fill="#0000FF">2</text>
<text x="1085.6" y="1314.9" style="font-family:'Liberation Serif','Times New Roman',serif;font-size:51px;font-weight:bold" fill="#0000FF">2</text>
<text x="1106.3" y="1294.6" style="font-family:'Liberation Serif','Times New Roman',serif;font-size:51px;font-weight:bold" fill="#FF0000">1</text>
<text x="1146.2" y="1255.9" style="font-family:'Liberation Serif','Times New Roman',serif;font-size:51px;font-weight:bold" fill="#000000">0</text>
<text x="1154.8" y="1088.3" style="font-family:'Liberation Serif','Times New Roman',serif;font-size:51px;font-weight:bold" fill="#000000">0</text>
<text x="1169.0" y="1226.3" style="font-family:'Liberation Serif','Times New Roman',serif;font-size:51px;font-weight:bold" fill="#000000">0</text>
<text x="1201.3" y="1323.4" style="font-family:'Liberation Serif','Times New Roman',serif;font-size:51px;font-weight:bold" fill="#FF0000">1</text>
<text x="1215.4" y="698.9" style="font-family:'Liberation Serif','Times New Roman',serif;font-size:51px;font-weight:bold" fill="#FF0000">1</text>
<text x="1237.3" y="1285.3" style="font-family:'Liberation Serif','Times New Roman',serif;font-size:51px;font-weight:bold" fill="#FF0000">1</text>
<text x="1311.7" y="1327.6" style="font-family:'Liberation Serif','Times New Roman',serif;font-size:51px;font-weight:bold" fill="#0000FF">2</text>
<text x="1423.7" y="1232.2" style="font-family:'Liberation Serif','Times New Roman',serif;font-size:51px;font-weight:normal" fill="#8000FF" stroke="#8000FF" stroke-width="1.6" stroke-linejoin="round">5</text>
<text x="1441.5" y="1214.4" style="font-family:'Liberation Serif','Times New Roman',serif;font-size:51px;font-weight:normal" fill="#8000FF" stroke="#8000FF" stroke-width="1.6" stroke-linejoin="round">5</text>
<text x="1424.3" y="1273.4" style="font-family:'Liberation Serif','Times New Roman',serif;font-size:51px;font-weight:bold" fill="#FF0000">1</text>
<text x="1444.7" y="1259.0" style="font-family:'Liberation Serif','Times New Roman',serif;font-size:51px;font-weight:bold" fill="#FF0000">1</text>
<text x="1465.8" y="1323.4" style="font-family:'Liberation Serif','Times New Roman',serif;font-size:51px;font-weight:bold" fill="#0000FF">2</text>
<text x="1510.7" y="1329.3" style="font-family:'Liberation Serif','Times New Roman',serif;font-size:51px;font-weight:bold" fill="#0000FF">2</text>
<text x="1534.5" y="1230.2" style="font-family:'Liberation Serif','Times New Roman',serif;font-size:51px;font-weight:bold" fill="#FF0000">1</text>
<text x="1563.3" y="1342.9" style="font-family:'Liberation Serif','Times New Roman',serif;font-size:51px;font-weight:bold" fill="#FF0000">1</text>
<text x="1600.4" y="1311.6" style="font-family:'Liberation Serif','Times New Roman',serif;font-size:51px;font-weight:bold" fill="#0000FF">2</text>
<text x="1639.2" y="1286.2" style="font-family:'Liberation Serif','Times New Roman',serif;font-size:51px;font-weight:bold" fill="#FF0000">1</text>
<text x="1650.0" y="1239.4" style="font-family:'Liberation Serif','Times New Roman',serif;font-size:51px;font-weight:bold" fill="#000000">0</text>
<text x="1665.8" y="1104.0" style="font-family:'Liberation Serif','Times New Roman',serif;font-size:51px;font-weight:bold" fill="#0000FF">2</text>
<text x="1666.8" y="1142.4" style="font-family:'Liberation Serif','Times New Roman',serif;font-size:51px;font-weight:bold" fill="#000000">0</text>
<text x="1681.8" y="1230.3" style="font-family:'Liberation Serif','Times New Roman',serif;font-size:51px;font-weight:bold" fill="#000000">0</text>
<text x="1689.1" y="1285.3" style="font-family:'Liberation Serif','Times New Roman',serif;font-size:51px;font-weight:bold" fill="#FF0000">1</text>
<text x="1717.3" y="1302.5" style="font-family:'Liberation Serif','Times New Roman',serif;font-size:51px;font-weight:bold" fill="#FF0000">1</text>
<text x="1754.6" y="1295.3" style="font-family:'Liberation Serif','Times New Roman',serif;font-size:51px;font-weight:bold" fill="#FF0000">1</text>
<text x="1795.6" y="1299.8" style="font-family:'Liberation Serif','Times New Roman',serif;font-size:51px;font-weight:bold" fill="#FF0000">1</text>
<text x="1830.1" y="1214.4" style="font-family:'Liberation Serif','Times New Roman',serif;font-size:51px;font-weight:bold" fill="#FF0000">1</text>
<text x="1875.8" y="1265.3" style="font-family:'Liberation Serif','Times New Roman',serif;font-size:51px;font-weight:bold" fill="#0000FF">2</text>
<text x="1877.6" y="1301.1" style="font-family:'Liberation Serif','Times New Roman',serif;font-size:51px;font-weight:bold" fill="#000000">0</text>
<text x="1887.6" y="1315.7" style="font-family:'Liberation Serif','Times New Roman',serif;font-size:51px;font-weight:bold" fill="#000000">0</text>
<text x="1864.9" y="1335.7" style="font-family:'Liberation Serif','Times New Roman',serif;font-size:51px;font-weight:bold" fill="#000000">0</text>
<text x="1949.4" y="1290.7" style="font-family:'Liberation Serif','Times New Roman',serif;font-size:51px;font-weight:bold" fill="#0000FF">2</text>
<text x="1949.1" y="1327.1" style="font-family:'Liberation Serif','Times New Roman',serif;font-size:51px;font-weight:bold" fill="#FF0000">1</text>
<text x="2003.8" y="1306.2" style="font-family:'Liberation Serif','Times New Roman',serif;font-size:51px;font-weight:bold" fill="#FF0000">1</text>
<text x="2023.1" y="1279.8" style="font-family:'Liberation Serif','Times New Roman',serif;font-size:51px;font-weight:bold" fill="#0000FF">2</text>
<text x="2021.0" y="1317.1" style="font-family:'Liberation Serif','Times New Roman',serif;font-size:51px;font-weight:bold" fill="#FF0000">1</text>
<text x="2072.6" y="1288.4" style="font-family:'Liberation Serif','Times New Roman',serif;font-size:51px;font-weight:bold" fill="#000000">0</text>
<text x="2103.4" y="1269.3" style="font-family:'Liberation Serif','Times New Roman',serif;font-size:51px;font-weight:bold" fill="#000000">0</text>
</svg></body></html>
